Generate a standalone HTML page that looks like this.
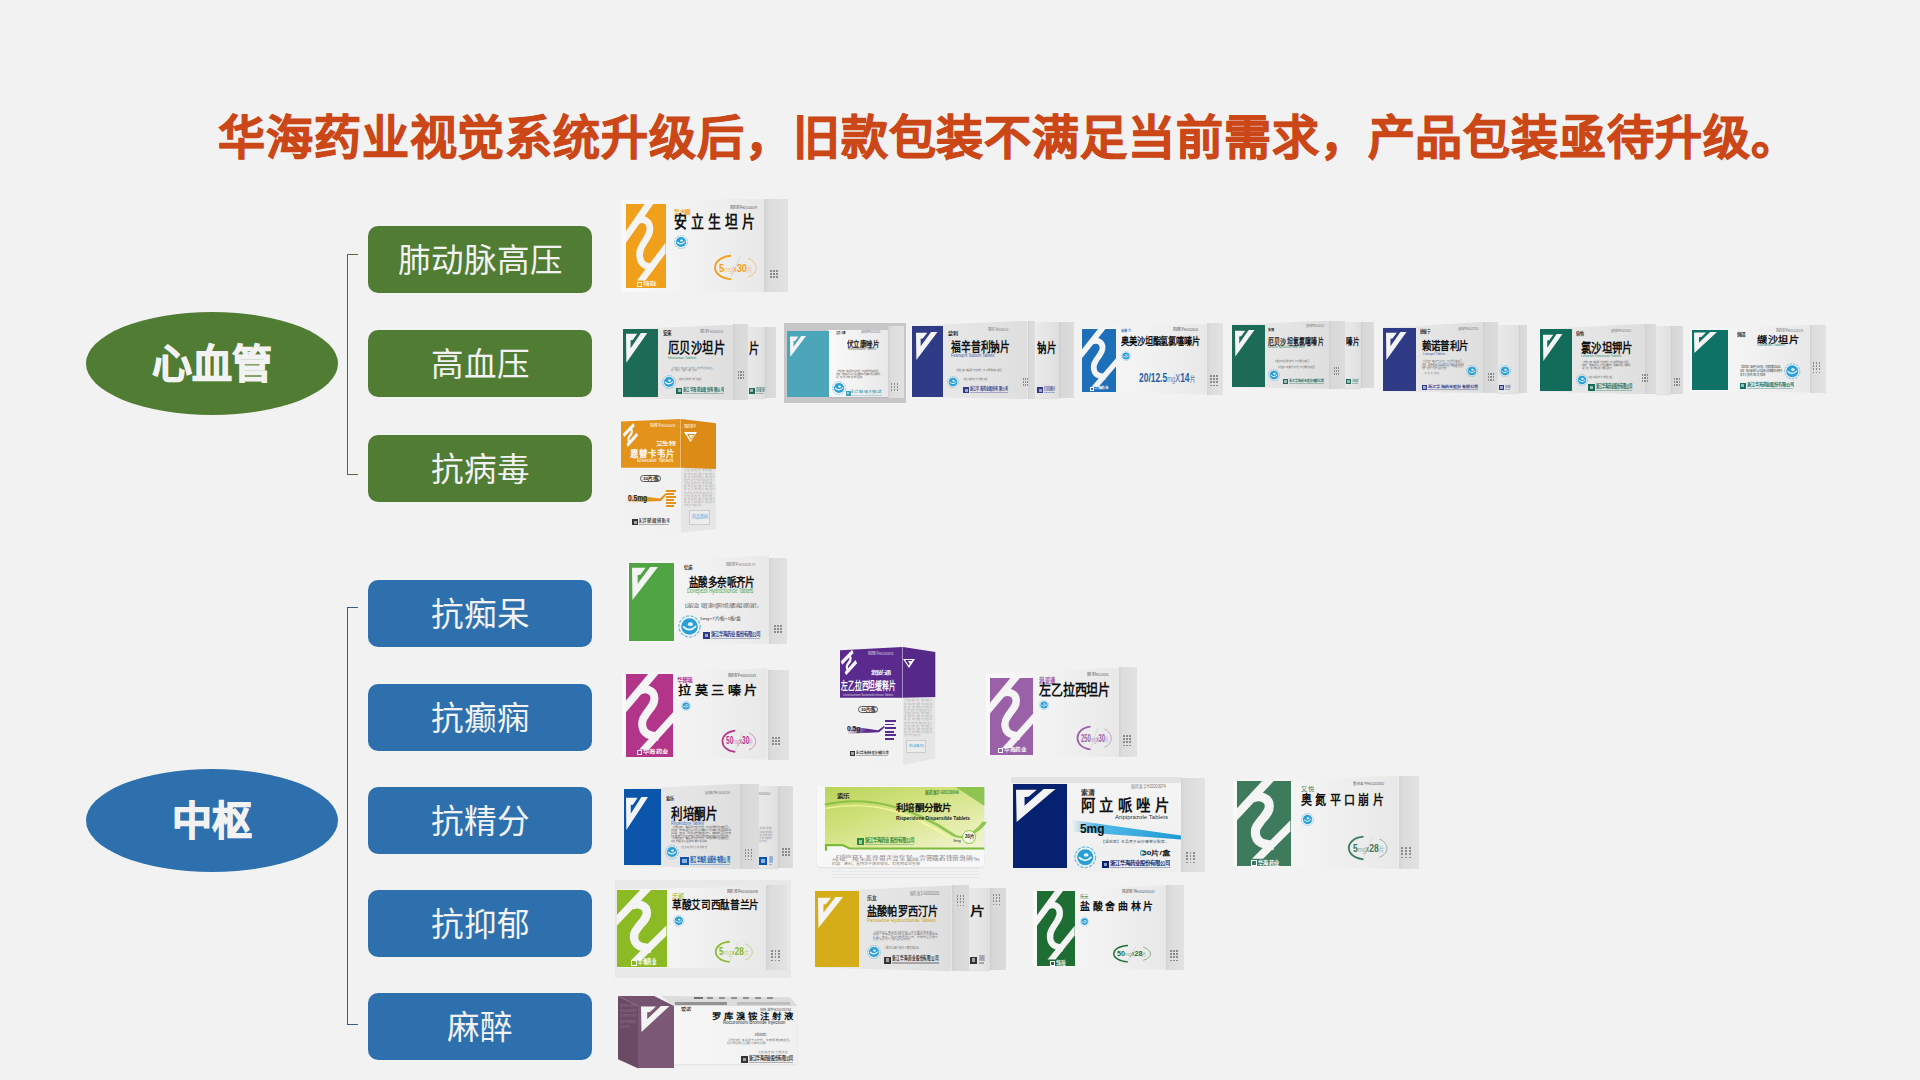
<!DOCTYPE html>
<html lang="zh-CN"><head><meta charset="utf-8">
<style>
html,body{margin:0;padding:0}
body{width:1920px;height:1080px;background:#f2f2f2;position:relative;overflow:hidden;font-family:"Liberation Sans",sans-serif}
.a{position:absolute}
.t{white-space:nowrap;line-height:1;transform-origin:0 0}
.title{left:218px;top:99px;font-size:47px;font-weight:700;color:#cc4718;white-space:nowrap;letter-spacing:0.9px;-webkit-text-stroke:0.9px #cc4718}
.ell{position:absolute;border-radius:50%;color:#f2f2f2;font-weight:bold;font-size:40px;text-align:center;-webkit-text-stroke:1.1px #f2f2f2}
.rect{position:absolute;left:368px;width:224px;height:67px;border-radius:10px;color:#f2f2f2;font-size:32.6px;text-align:center;line-height:70px}
.g{background:#517c33}
.b{background:#2d70ad}
.br{position:absolute;left:346.5px;width:10.5px;border:1.8px solid;border-right:none}
</style></head><body>
<div class="a title">华海药业视觉系统升级后，旧款包装不满足当前需求，产品包装亟待升级。</div>

<div class="ell g" style="left:86px;top:312px;width:252px;height:103px;line-height:105px">心血管</div>
<div class="br" style="top:253.5px;height:219px;border-color:#4f6b3c"></div>
<div class="rect g" style="top:226px">肺动脉高压</div>
<div class="rect g" style="top:330px">高血压</div>
<div class="rect g" style="top:435px">抗病毒</div>

<div class="ell b" style="left:86px;top:769px;width:252px;height:103px;line-height:105px">中枢</div>
<div class="br" style="top:607px;height:415.5px;border-color:#3a5a80"></div>
<div class="rect b" style="top:580px">抗痴呆</div>
<div class="rect b" style="top:684px">抗癫痫</div>
<div class="rect b" style="top:787px">抗精分</div>
<div class="rect b" style="top:890px">抗抑郁</div>
<div class="rect b" style="top:992.5px">麻醉</div>

<div class="a" style="left:764.0px;top:199.0px;width:24.0px;height:93.0px;background:linear-gradient(90deg,#d3d3d3 0%,#dcdcdc 20%,#e2e2e2 100%);"></div>
<div class="a" style="left:621.0px;top:199.0px;width:143.0px;height:93.0px;background:linear-gradient(90deg,#f9f9f9 0%,#f1f1f1 55%,#e8e8e8 100%);clip-path:polygon(0 1px,100% 0,100% 100%,0 calc(100% - 0px));"></div>
<div class="a" style="left:626.0px;top:204.0px;width:39.5px;height:84.0px;background:#f1a01c;"></div>
<svg class="a" style="left:626.0px;top:204.0px;overflow:hidden" width="39.5" height="84.0" viewBox="0 0 100 100" preserveAspectRatio="none"><polygon points="47,0 69,0 0,46 0,32" fill="#f4f4f4"/><polygon points="100,46 100,59 49,91 28,91" fill="#f4f4f4"/><path d="M29.6,20.2 C41.6,16.4 60.5,19.1 60.5,29.5 C60.5,35.5 55.3,38.8 45,46.4 L39.9,50.8 C31.3,57.4 31.3,71 52.6,73.8 L70,76" fill="none" stroke="#f4f4f4" stroke-width="6.72" vector-effect="non-scaling-stroke" stroke-linecap="butt"/></svg>
<div class="a" style="left:637.0px;top:282.0px;width:4.5px;height:4.5px;border:0.8px solid #fff;box-sizing:border-box;"></div>
<div class="a t" id="f1" style="left:642.6px;top:282.0px;font-size:4.89px;color:#fff;font-weight:bold;font-family:'Liberation Sans',sans-serif;transform:scaleX(0.6896);">华海药业</div>
<div class="a t" id="f2" style="left:674.0px;top:208.9px;font-size:5.98px;color:#f1a01c;font-weight:bold;font-family:'Liberation Sans',sans-serif;transform:scaleX(0.9432);">华吉顺</div>
<div class="a t" id="f3" style="left:730.0px;top:205.5px;font-size:4.11px;color:#555;font-weight:normal;font-family:'Liberation Sans',sans-serif;transform:scaleX(0.7311);">国药准字H20100479</div>
<div class="a t" id="f4" style="left:674.0px;top:215.3px;font-size:16.52px;color:#111;font-weight:bold;font-family:'Liberation Sans',sans-serif;transform:scaleX(0.7829);">安 立 生 坦 片</div>
<svg class="a" style="left:674.0px;top:235.0px;" width="14.0" height="14.0" viewBox="0 0 100 100" preserveAspectRatio="xMidYMid meet" overflow="visible"><circle cx="50" cy="50" r="46" fill="none" stroke="#2a9fd6" stroke-width="5" stroke-dasharray="14 6" opacity="0.7"/><circle cx="50" cy="50" r="36" fill="#2a9fd6"/><path d="M22,50 Q50,78 78,48" stroke="#e8f6fc" stroke-width="8" fill="none"/><ellipse cx="54" cy="40" rx="11" ry="8" fill="#e8f6fc"/></svg>
<svg class="a" style="left:712.0px;top:255.0px;" width="45.0" height="25.0" viewBox="0 0 100 100" preserveAspectRatio="none" overflow="visible"><path d="M42,3 C-5,10 -5,90 42,97" fill="none" stroke="#f1a01c" stroke-width="1.88" vector-effect="non-scaling-stroke"/><path d="M80,13 C104,30 104,74 80,88" fill="none" stroke="#f1a01c" stroke-width="0.9" opacity="0.55" vector-effect="non-scaling-stroke"/><path d="M62,6 L42,94" fill="none" stroke="#cfcfcf" stroke-width="0.6" vector-effect="non-scaling-stroke"/></svg>
<div class="a t" id="f5" style="left:719.2px;top:261.9px;font-size:11.64px;color:#f1a01c;font-weight:normal;font-family:'Liberation Sans',sans-serif;transform:scaleX(0.7979);"><b>5</b><span style="font-size:0.68em;opacity:0.55">mg</span><span style="font-size:0.8em">x</span><b>30</b><span style="font-size:0.6em;opacity:0.55">片</span></div>
<div class="a" style="left:770.0px;top:270.0px;width:1.6px;height:8.0px;background:repeating-linear-gradient(180deg,#555 0 1.6px,transparent 1.6px 3.2px);opacity:0.6;"></div>
<div class="a" style="left:773.2px;top:270.0px;width:1.6px;height:8.0px;background:repeating-linear-gradient(180deg,#555 0 1.6px,transparent 1.6px 3.2px);opacity:0.6;"></div>
<div class="a" style="left:776.4px;top:270.0px;width:1.6px;height:8.0px;background:repeating-linear-gradient(180deg,#555 0 1.6px,transparent 1.6px 3.2px);opacity:0.6;"></div>
<div class="a" style="left:764.7px;top:326.5px;width:11.5px;height:71.8px;background:linear-gradient(90deg,#d0d0d0 0%,#d8d8d8 20%,#dcdcdc 100%);"></div>
<div class="a" style="left:748.0px;top:326.5px;width:16.7px;height:71.8px;background:linear-gradient(90deg,#e9e9e9 0%,#e4e4e4 60%,#dedede 100%);box-shadow:0 1px 1px rgba(0,0,0,0.07);"></div>
<div class="a t" id="f6" style="left:749.0px;top:340.9px;font-size:14.13px;color:#111;font-weight:bold;font-family:'Liberation Sans',sans-serif;transform:scaleX(0.7236);">片</div>
<div class="a" style="left:749.0px;top:388.0px;width:5.5px;height:5.5px;background:#1b6b57;"></div>
<div class="a" style="left:750.4px;top:389.4px;width:2.8px;height:2.8px;background:rgba(255,255,255,0.55);"></div>
<div class="a t" id="f7" style="left:755.6px;top:388.0px;font-size:4.30px;color:#1b6b57;font-weight:bold;font-family:'Liberation Sans',sans-serif;transform:scaleX(0.1822);">浙江华海药业股份有限公司</div>
<div class="a" style="left:755.6px;top:392.5px;width:8.4px;height:1.0px;background:#1b6b57;opacity:0.35;"></div>
<div class="a" style="left:733.2px;top:324.3px;width:14.8px;height:75.7px;background:linear-gradient(90deg,#d0d0d0 0%,#d8d8d8 20%,#dcdcdc 100%);"></div>
<div class="a" style="left:623.0px;top:324.7px;width:110.2px;height:75.3px;background:linear-gradient(90deg,#e9e9e9 0%,#e4e4e4 60%,#dedede 100%);clip-path:polygon(0 4.5px,100% 0,100% 100%,0 calc(100% - 1.8px));"></div>
<div class="a" style="left:623.0px;top:328.7px;width:35.4px;height:68.3px;background:#1b6b56;"></div>
<svg class="a" style="left:625.6px;top:333.0px;" width="21.3" height="29.8" viewBox="0 0 21.30 29.80" overflow="visible"><polygon points="0.00,0.72 11.18,0.72 6.75,6.97 4.62,7.21 4.62,15.14 14.91,0.00 21.30,0.00 0.36,29.80" fill="#f4f4f4"/></svg>
<div class="a t" id="f8" style="left:663.0px;top:330.9px;font-size:5.43px;color:#222;font-weight:bold;font-family:'Liberation Sans',sans-serif;transform:scaleX(0.8435);">安来</div>
<div class="a t" id="f9" style="left:700.0px;top:329.5px;font-size:4.11px;color:#777;font-weight:normal;font-family:'Liberation Sans',sans-serif;transform:scaleX(0.6238);">国药准字H20000513</div>
<div class="a t" id="f10" style="left:667.7px;top:340.6px;font-size:14.89px;color:#111;font-weight:bold;font-family:'Liberation Sans',sans-serif;transform:scaleX(0.7599);">厄贝沙坦片</div>
<div class="a t" id="f11" style="left:668.0px;top:356.1px;font-size:4.11px;color:#2f8c6f;font-weight:normal;font-family:'Liberation Sans',sans-serif;transform:scaleX(0.8666);">Irbesartan Tablets</div>
<div class="a t" id="f12" style="left:671.0px;top:367.9px;font-size:1.74px;color:#6e6e6e;font-weight:normal;font-family:'Liberation Sans',sans-serif;transform:scaleX(1.0032);">【适应症】本品用于治疗轻、中度原发性高血压。</div>
<div class="a t" id="f13" style="left:671.0px;top:369.9px;font-size:1.74px;color:#6e6e6e;font-weight:normal;font-family:'Liberation Sans',sans-serif;transform:scaleX(0.6032);">规格：按本品计每片含主要成分及辅料详见说明书</div>
<svg class="a" style="left:662.0px;top:374.5px;" width="14.0" height="14.0" viewBox="0 0 100 100" preserveAspectRatio="xMidYMid meet" overflow="visible"><circle cx="50" cy="50" r="46" fill="none" stroke="#2a9fd6" stroke-width="5" stroke-dasharray="14 6" opacity="0.7"/><circle cx="50" cy="50" r="36" fill="#2a9fd6"/><path d="M22,50 Q50,78 78,48" stroke="#e8f6fc" stroke-width="8" fill="none"/><ellipse cx="54" cy="40" rx="11" ry="8" fill="#e8f6fc"/></svg>
<div class="a t" id="f14" style="left:678.0px;top:378.2px;font-size:2.17px;color:#6e6e6e;font-weight:normal;font-family:'Liberation Sans',sans-serif;transform:scaleX(0.5494);">【适应症】本品用于治疗轻、中度原发性高血压。</div>
<div class="a" style="left:676.0px;top:387.6px;width:6.2px;height:6.2px;background:#1b6b57;"></div>
<div class="a" style="left:677.5px;top:389.2px;width:3.1px;height:3.1px;background:rgba(255,255,255,0.55);"></div>
<div class="a t" id="f15" style="left:683.4px;top:387.6px;font-size:4.85px;color:#1b6b57;font-weight:bold;font-family:'Liberation Sans',sans-serif;transform:scaleX(0.6825);">浙江华海药业股份有限公司</div>
<div class="a" style="left:683.4px;top:392.7px;width:40.6px;height:1.1px;background:#1b6b57;opacity:0.35;"></div>
<div class="a" style="left:738.0px;top:371.0px;width:1.2px;height:10.0px;background:repeating-linear-gradient(180deg,#555 0 1.6px,transparent 1.6px 3.2px);opacity:0.6;"></div>
<div class="a" style="left:740.4px;top:371.0px;width:1.2px;height:10.0px;background:repeating-linear-gradient(180deg,#555 0 1.6px,transparent 1.6px 3.2px);opacity:0.6;"></div>
<div class="a" style="left:742.8px;top:371.0px;width:1.2px;height:10.0px;background:repeating-linear-gradient(180deg,#555 0 1.6px,transparent 1.6px 3.2px);opacity:0.6;"></div>
<div class="a" style="left:784.2px;top:323.0px;width:122.3px;height:79.6px;background:#c8c6c8;"></div>
<div class="a" style="left:888.0px;top:326.0px;width:15.7px;height:71.6px;background:linear-gradient(90deg,#d3d3d3 0%,#dcdcdc 20%,#e2e2e2 100%);"></div>
<div class="a" style="left:828.0px;top:329.5px;width:60.0px;height:67.7px;background:linear-gradient(90deg,#f9f9f9 0%,#f1f1f1 55%,#e8e8e8 100%);box-shadow:0 1px 1px rgba(0,0,0,0.07);"></div>
<div class="a" style="left:786.8px;top:330.5px;width:41.8px;height:66.3px;background:#4ba6b9;"></div>
<svg class="a" style="left:789.5px;top:336.0px;" width="16.0" height="21.0" viewBox="0 0 16.00 21.00" overflow="visible"><polygon points="0.00,0.50 8.40,0.50 5.07,4.91 3.47,5.08 3.47,10.67 11.20,0.00 16.00,0.00 0.27,21.00" fill="#f4f4f4"/></svg>
<div class="a t" id="f16" style="left:836.0px;top:332.0px;font-size:3.26px;color:#333;font-weight:bold;font-family:'Liberation Sans',sans-serif;transform:scaleX(0.7717);">艾克立康</div>
<div class="a t" id="f17" style="left:861.0px;top:330.6px;font-size:3.42px;color:#777;font-weight:normal;font-family:'Liberation Sans',sans-serif;transform:scaleX(0.6483);">国药准字H20103130</div>
<div class="a t" id="f18" style="left:846.5px;top:340.9px;font-size:8.04px;color:#222;font-weight:bold;font-family:'Liberation Sans',sans-serif;transform:scaleX(0.8111);">伏立康唑片</div>
<div class="a t" id="f19" style="left:848.0px;top:349.2px;font-size:2.74px;color:#666;font-weight:normal;font-family:'Liberation Sans',sans-serif;transform:scaleX(1.1252);">Voriconazole Tablets</div>
<div class="a t" id="f20" style="left:836.0px;top:370.2px;font-size:2.32px;color:#6e6e6e;font-weight:normal;font-family:'Liberation Sans',sans-serif;transform:scaleX(1.0042);">【适应症】本品用于治疗轻、中度原发性高血压。</div>
<div class="a t" id="f21" style="left:836.0px;top:372.9px;font-size:2.32px;color:#6e6e6e;font-weight:normal;font-family:'Liberation Sans',sans-serif;transform:scaleX(1.0042);">规格：按本品计每片含主要成分及辅料详见说明书</div>
<div class="a t" id="f22" style="left:836.0px;top:375.6px;font-size:2.32px;color:#6e6e6e;font-weight:normal;font-family:'Liberation Sans',sans-serif;transform:scaleX(0.6042);">贮藏：密封，置阴凉干燥处保存。有效期至见包装</div>
<svg class="a" style="left:832.0px;top:381.0px;" width="14.0" height="14.0" viewBox="0 0 100 100" preserveAspectRatio="xMidYMid meet" overflow="visible"><circle cx="50" cy="50" r="46" fill="none" stroke="#2a9fd6" stroke-width="5" stroke-dasharray="14 6" opacity="0.7"/><circle cx="50" cy="50" r="36" fill="#2a9fd6"/><path d="M22,50 Q50,78 78,48" stroke="#e8f6fc" stroke-width="8" fill="none"/><ellipse cx="54" cy="40" rx="11" ry="8" fill="#e8f6fc"/></svg>
<div class="a" style="left:846.0px;top:391.0px;width:4.5px;height:4.5px;background:#3e9fb5;"></div>
<div class="a" style="left:847.1px;top:392.1px;width:2.2px;height:2.2px;background:rgba(255,255,255,0.55);"></div>
<div class="a t" id="f23" style="left:851.4px;top:391.0px;font-size:3.52px;color:#3e9fb5;font-weight:bold;font-family:'Liberation Sans',sans-serif;transform:scaleX(0.6434);">浙江华海药业股份有限公司</div>
<div class="a" style="left:851.4px;top:394.7px;width:30.6px;height:0.8px;background:#3e9fb5;opacity:0.35;"></div>
<div class="a" style="left:891.0px;top:383.0px;width:1.4px;height:8.0px;background:repeating-linear-gradient(180deg,#555 0 1.6px,transparent 1.6px 3.2px);opacity:0.6;"></div>
<div class="a" style="left:893.8px;top:383.0px;width:1.4px;height:8.0px;background:repeating-linear-gradient(180deg,#555 0 1.6px,transparent 1.6px 3.2px);opacity:0.6;"></div>
<div class="a" style="left:896.6px;top:383.0px;width:1.4px;height:8.0px;background:repeating-linear-gradient(180deg,#555 0 1.6px,transparent 1.6px 3.2px);opacity:0.6;"></div>
<div class="a" style="left:1059.4px;top:322.0px;width:14.2px;height:76.4px;background:linear-gradient(90deg,#d0d0d0 0%,#d8d8d8 20%,#dcdcdc 100%);"></div>
<div class="a" style="left:1035.5px;top:322.0px;width:23.9px;height:76.4px;background:linear-gradient(90deg,#e9e9e9 0%,#e4e4e4 60%,#dedede 100%);box-shadow:0 1px 1px rgba(0,0,0,0.07);"></div>
<div class="a t" id="f24" style="left:1037.0px;top:340.9px;font-size:13.04px;color:#111;font-weight:bold;font-family:'Liberation Sans',sans-serif;transform:scaleX(0.7324);">钠片</div>
<div class="a" style="left:1037.0px;top:387.0px;width:6.0px;height:6.0px;background:#2e3a87;"></div>
<div class="a" style="left:1038.5px;top:388.5px;width:3.0px;height:3.0px;background:rgba(255,255,255,0.55);"></div>
<div class="a t" id="f25" style="left:1044.2px;top:387.0px;font-size:4.70px;color:#2e3a87;font-weight:bold;font-family:'Liberation Sans',sans-serif;transform:scaleX(0.1863);">浙江华海药业股份有限公司</div>
<div class="a" style="left:1044.2px;top:391.9px;width:10.8px;height:1.1px;background:#2e3a87;opacity:0.35;"></div>
<div class="a" style="left:1027.6px;top:320.6px;width:7.9px;height:78.6px;background:linear-gradient(90deg,#d0d0d0 0%,#d8d8d8 20%,#dcdcdc 100%);"></div>
<div class="a" style="left:912.4px;top:320.6px;width:115.2px;height:78.6px;background:linear-gradient(90deg,#e9e9e9 0%,#e4e4e4 60%,#dedede 100%);clip-path:polygon(0 5.4px,100% 0,100% 100%,0 calc(100% - 2.4px));"></div>
<div class="a" style="left:912.4px;top:326.0px;width:31.0px;height:70.8px;background:#2f3b87;"></div>
<svg class="a" style="left:915.5px;top:331.5px;" width="21.5" height="28.0" viewBox="0 0 21.50 28.00" overflow="visible"><polygon points="0.00,0.67 11.29,0.67 6.82,6.55 4.67,6.78 4.67,14.22 15.05,0.00 21.50,0.00 0.37,28.00" fill="#f4f4f4"/></svg>
<div class="a t" id="f26" style="left:948.0px;top:332.0px;font-size:4.35px;color:#222;font-weight:bold;font-family:'Liberation Sans',sans-serif;transform:scaleX(1.1685);">蒙利</div>
<div class="a t" id="f27" style="left:988.0px;top:327.5px;font-size:4.11px;color:#777;font-weight:normal;font-family:'Liberation Sans',sans-serif;transform:scaleX(0.5433);">国药准字H20080140</div>
<div class="a t" id="f28" style="left:950.5px;top:341.1px;font-size:12.93px;color:#111;font-weight:bold;font-family:'Liberation Sans',sans-serif;transform:scaleX(0.7569);">福辛普利钠片</div>
<div class="a t" id="f29" style="left:951.0px;top:353.5px;font-size:4.52px;color:#3d5aa8;font-weight:normal;font-family:'Liberation Sans',sans-serif;transform:scaleX(0.8382);">Fosinopril Sodium Tablets</div>
<div class="a t" id="f30" style="left:955.0px;top:369.2px;font-size:2.17px;color:#6e6e6e;font-weight:normal;font-family:'Liberation Sans',sans-serif;transform:scaleX(1.0949);">【适应症】本品用于治疗轻、中度原发性高血压。</div>
<svg class="a" style="left:947.0px;top:376.0px;" width="12.0" height="12.0" viewBox="0 0 100 100" preserveAspectRatio="xMidYMid meet" overflow="visible"><circle cx="50" cy="50" r="46" fill="none" stroke="#2a9fd6" stroke-width="5" stroke-dasharray="14 6" opacity="0.7"/><circle cx="50" cy="50" r="36" fill="#2a9fd6"/><path d="M22,50 Q50,78 78,48" stroke="#e8f6fc" stroke-width="8" fill="none"/><ellipse cx="54" cy="40" rx="11" ry="8" fill="#e8f6fc"/></svg>
<div class="a t" id="f31" style="left:963.0px;top:377.7px;font-size:2.17px;color:#6e6e6e;font-weight:normal;font-family:'Liberation Sans',sans-serif;transform:scaleX(0.5721);">【适应症】本品用于治疗轻、中度原发性高血压。</div>
<div class="a" style="left:963.0px;top:387.0px;width:6.0px;height:6.0px;background:#2e3a87;"></div>
<div class="a" style="left:964.5px;top:388.5px;width:3.0px;height:3.0px;background:rgba(255,255,255,0.55);"></div>
<div class="a t" id="f32" style="left:970.2px;top:387.0px;font-size:4.70px;color:#2e3a87;font-weight:bold;font-family:'Liberation Sans',sans-serif;transform:scaleX(0.6363);">浙江华海药业股份有限公司</div>
<div class="a" style="left:970.2px;top:391.9px;width:37.8px;height:1.1px;background:#2e3a87;opacity:0.35;"></div>
<div class="a" style="left:1023.0px;top:378.0px;width:1.0px;height:10.0px;background:repeating-linear-gradient(180deg,#555 0 1.6px,transparent 1.6px 3.2px);opacity:0.6;"></div>
<div class="a" style="left:1025.0px;top:378.0px;width:1.0px;height:10.0px;background:repeating-linear-gradient(180deg,#555 0 1.6px,transparent 1.6px 3.2px);opacity:0.6;"></div>
<div class="a" style="left:1027.0px;top:378.0px;width:1.0px;height:10.0px;background:repeating-linear-gradient(180deg,#555 0 1.6px,transparent 1.6px 3.2px);opacity:0.6;"></div>
<div class="a" style="left:1206.8px;top:323.0px;width:16.7px;height:72.0px;background:linear-gradient(90deg,#d3d3d3 0%,#dcdcdc 20%,#e2e2e2 100%);"></div>
<div class="a" style="left:1081.4px;top:323.5px;width:125.4px;height:71.1px;background:linear-gradient(90deg,#f9f9f9 0%,#f1f1f1 55%,#e8e8e8 100%);clip-path:polygon(0 5px,100% 0,100% 100%,0 calc(100% - 2.4px));"></div>
<div class="a" style="left:1082.0px;top:328.5px;width:34.0px;height:63.5px;background:#1e6fba;"></div>
<svg class="a" style="left:1082.0px;top:328.5px;overflow:hidden" width="34.0" height="63.5" viewBox="0 0 100 100" preserveAspectRatio="none"><polygon points="47,0 69,0 0,46 0,32" fill="#f4f4f4"/><polygon points="100,46 100,59 49,91 28,91" fill="#f4f4f4"/><path d="M29.6,20.2 C41.6,16.4 60.5,19.1 60.5,29.5 C60.5,35.5 55.3,38.8 45,46.4 L39.9,50.8 C31.3,57.4 31.3,71 52.6,73.8 L70,76" fill="none" stroke="#f4f4f4" stroke-width="5.78" vector-effect="non-scaling-stroke" stroke-linecap="butt"/></svg>
<div class="a" style="left:1090.0px;top:387.0px;width:3.5px;height:3.5px;border:0.8px solid #fff;box-sizing:border-box;"></div>
<div class="a t" id="f33" style="left:1094.4px;top:387.0px;font-size:3.80px;color:#fff;font-weight:bold;font-family:'Liberation Sans',sans-serif;transform:scaleX(0.9315);">华海药业</div>
<div class="a t" id="f34" style="left:1121.0px;top:330.0px;font-size:3.80px;color:#1e6fba;font-weight:bold;font-family:'Liberation Sans',sans-serif;transform:scaleX(0.8587);">安美兰</div>
<div class="a t" id="f35" style="left:1173.0px;top:327.5px;font-size:4.11px;color:#555;font-weight:normal;font-family:'Liberation Sans',sans-serif;transform:scaleX(0.6775);">国药准字H20203045</div>
<div class="a t" id="f36" style="left:1121.0px;top:337.1px;font-size:10.43px;color:#111;font-weight:bold;font-family:'Liberation Sans',sans-serif;transform:scaleX(0.7883);">奥美沙坦酯氢氯噻嗪片</div>
<svg class="a" style="left:1121.0px;top:350.8px;" width="10.0" height="10.0" viewBox="0 0 100 100" preserveAspectRatio="xMidYMid meet" overflow="visible"><circle cx="50" cy="50" r="46" fill="none" stroke="#2a9fd6" stroke-width="5" stroke-dasharray="14 6" opacity="0.7"/><circle cx="50" cy="50" r="36" fill="#2a9fd6"/><path d="M22,50 Q50,78 78,48" stroke="#e8f6fc" stroke-width="8" fill="none"/><ellipse cx="54" cy="40" rx="11" ry="8" fill="#e8f6fc"/></svg>
<div class="a t" id="f37" style="left:1138.5px;top:373.2px;font-size:11.92px;color:#1e5fa8;font-weight:normal;font-family:'Liberation Sans',sans-serif;transform:scaleX(0.7086);"><b>20/12.5</b><span style="font-size:0.7em;opacity:0.7">mg</span><span style="font-size:0.85em">X</span><b>14</b><span style="font-size:0.65em">片</span></div>
<div class="a" style="left:1210.0px;top:375.0px;width:1.6px;height:13.0px;background:repeating-linear-gradient(180deg,#555 0 1.6px,transparent 1.6px 3.2px);opacity:0.6;"></div>
<div class="a" style="left:1213.2px;top:375.0px;width:1.6px;height:13.0px;background:repeating-linear-gradient(180deg,#555 0 1.6px,transparent 1.6px 3.2px);opacity:0.6;"></div>
<div class="a" style="left:1216.4px;top:375.0px;width:1.6px;height:13.0px;background:repeating-linear-gradient(180deg,#555 0 1.6px,transparent 1.6px 3.2px);opacity:0.6;"></div>
<div class="a" style="left:1361.0px;top:322.0px;width:12.6px;height:66.0px;background:linear-gradient(90deg,#d0d0d0 0%,#d8d8d8 20%,#dcdcdc 100%);"></div>
<div class="a" style="left:1345.0px;top:322.0px;width:16.0px;height:66.0px;background:linear-gradient(90deg,#e9e9e9 0%,#e4e4e4 60%,#dedede 100%);box-shadow:0 1px 1px rgba(0,0,0,0.07);"></div>
<div class="a t" id="f38" style="left:1346.0px;top:337.9px;font-size:8.70px;color:#111;font-weight:bold;font-family:'Liberation Sans',sans-serif;transform:scaleX(0.7609);">嗪片</div>
<div class="a" style="left:1346.0px;top:379.0px;width:5.0px;height:5.0px;background:#1b6b57;"></div>
<div class="a" style="left:1347.2px;top:380.2px;width:2.5px;height:2.5px;background:rgba(255,255,255,0.55);"></div>
<div class="a t" id="f39" style="left:1352.0px;top:379.0px;font-size:3.91px;color:#1b6b57;font-weight:bold;font-family:'Liberation Sans',sans-serif;transform:scaleX(0.1315);">浙江华海药业股份有限公司</div>
<div class="a" style="left:1352.0px;top:383.1px;width:6.0px;height:0.9px;background:#1b6b57;opacity:0.35;"></div>
<div class="a" style="left:1329.0px;top:320.6px;width:16.0px;height:68.4px;background:linear-gradient(90deg,#d0d0d0 0%,#d8d8d8 20%,#dcdcdc 100%);"></div>
<div class="a" style="left:1232.0px;top:320.6px;width:97.0px;height:68.4px;background:linear-gradient(90deg,#e9e9e9 0%,#e4e4e4 60%,#dedede 100%);clip-path:polygon(0 4px,100% 0,100% 100%,0 calc(100% - 1.7px));"></div>
<div class="a" style="left:1232.0px;top:324.5px;width:33.0px;height:62.8px;background:#1b6b56;"></div>
<svg class="a" style="left:1234.5px;top:329.5px;" width="19.5" height="26.5" viewBox="0 0 19.50 26.50" overflow="visible"><polygon points="0.00,0.64 10.24,0.64 6.18,6.20 4.23,6.41 4.23,13.46 13.65,0.00 19.50,0.00 0.33,26.50" fill="#f4f4f4"/></svg>
<div class="a t" id="f40" style="left:1268.0px;top:329.0px;font-size:3.26px;color:#222;font-weight:bold;font-family:'Liberation Sans',sans-serif;transform:scaleX(1.0435);">安来</div>
<div class="a t" id="f41" style="left:1306.0px;top:324.6px;font-size:3.42px;color:#777;font-weight:normal;font-family:'Liberation Sans',sans-serif;transform:scaleX(0.6145);">国药准字H20000513</div>
<div class="a t" id="f42" style="left:1268.0px;top:337.9px;font-size:8.70px;color:#222;font-weight:bold;font-family:'Liberation Sans',sans-serif;transform:scaleX(0.6876);">厄贝沙坦氢氯噻嗪片</div>
<div class="a t" id="f43" style="left:1268.0px;top:346.1px;font-size:3.42px;color:#2f8c6f;font-weight:normal;font-family:'Liberation Sans',sans-serif;transform:scaleX(0.6408);">Irbesartan Hydrochlorothiazide Tablets</div>
<div class="a t" id="f44" style="left:1274.0px;top:360.2px;font-size:2.17px;color:#6e6e6e;font-weight:normal;font-family:'Liberation Sans',sans-serif;transform:scaleX(0.8221);">【适应症】本品用于治疗轻、中度原发性高血压。</div>
<div class="a t" id="f45" style="left:1277.0px;top:366.2px;font-size:2.17px;color:#6e6e6e;font-weight:normal;font-family:'Liberation Sans',sans-serif;transform:scaleX(0.8903);">【适应症】本品用于治疗轻、中度原发性高血压。</div>
<svg class="a" style="left:1268.0px;top:369.0px;" width="12.0" height="12.0" viewBox="0 0 100 100" preserveAspectRatio="xMidYMid meet" overflow="visible"><circle cx="50" cy="50" r="46" fill="none" stroke="#2a9fd6" stroke-width="5" stroke-dasharray="14 6" opacity="0.7"/><circle cx="50" cy="50" r="36" fill="#2a9fd6"/><path d="M22,50 Q50,78 78,48" stroke="#e8f6fc" stroke-width="8" fill="none"/><ellipse cx="54" cy="40" rx="11" ry="8" fill="#e8f6fc"/></svg>
<div class="a" style="left:1283.0px;top:379.0px;width:5.0px;height:5.0px;background:#1b6b57;"></div>
<div class="a" style="left:1284.2px;top:380.2px;width:2.5px;height:2.5px;background:rgba(255,255,255,0.55);"></div>
<div class="a t" id="f46" style="left:1289.0px;top:379.0px;font-size:3.91px;color:#1b6b57;font-weight:bold;font-family:'Liberation Sans',sans-serif;transform:scaleX(0.7357);">浙江华海药业股份有限公司</div>
<div class="a" style="left:1289.0px;top:383.1px;width:35.0px;height:0.9px;background:#1b6b57;opacity:0.35;"></div>
<div class="a" style="left:1334.0px;top:367.0px;width:1.0px;height:10.0px;background:repeating-linear-gradient(180deg,#555 0 1.6px,transparent 1.6px 3.2px);opacity:0.6;"></div>
<div class="a" style="left:1336.0px;top:367.0px;width:1.0px;height:10.0px;background:repeating-linear-gradient(180deg,#555 0 1.6px,transparent 1.6px 3.2px);opacity:0.6;"></div>
<div class="a" style="left:1338.0px;top:367.0px;width:1.0px;height:10.0px;background:repeating-linear-gradient(180deg,#555 0 1.6px,transparent 1.6px 3.2px);opacity:0.6;"></div>
<div class="a" style="left:1518.8px;top:324.5px;width:8.7px;height:68.5px;background:linear-gradient(90deg,#d0d0d0 0%,#d8d8d8 20%,#dcdcdc 100%);"></div>
<div class="a" style="left:1498.0px;top:324.5px;width:20.8px;height:68.5px;background:linear-gradient(90deg,#e9e9e9 0%,#e4e4e4 60%,#dedede 100%);box-shadow:0 1px 1px rgba(0,0,0,0.07);"></div>
<svg class="a" style="left:1499.0px;top:365.0px;" width="12.0" height="12.0" viewBox="0 0 100 100" preserveAspectRatio="xMidYMid meet" overflow="visible"><circle cx="50" cy="50" r="46" fill="none" stroke="#2a9fd6" stroke-width="5" stroke-dasharray="14 6" opacity="0.7"/><circle cx="50" cy="50" r="36" fill="#2a9fd6"/><path d="M22,50 Q50,78 78,48" stroke="#e8f6fc" stroke-width="8" fill="none"/><ellipse cx="54" cy="40" rx="11" ry="8" fill="#e8f6fc"/></svg>
<div class="a" style="left:1499.0px;top:385.0px;width:5.0px;height:5.0px;background:#2e3a87;"></div>
<div class="a" style="left:1500.2px;top:386.2px;width:2.5px;height:2.5px;background:rgba(255,255,255,0.55);"></div>
<div class="a t" id="f47" style="left:1505.0px;top:385.0px;font-size:3.91px;color:#2e3a87;font-weight:bold;font-family:'Liberation Sans',sans-serif;transform:scaleX(0.1107);">浙江华海药业股份有限公司</div>
<div class="a" style="left:1505.0px;top:389.1px;width:5.0px;height:0.9px;background:#2e3a87;opacity:0.35;"></div>
<div class="a" style="left:1483.0px;top:322.0px;width:15.0px;height:71.0px;background:linear-gradient(90deg,#d0d0d0 0%,#d8d8d8 20%,#dcdcdc 100%);"></div>
<div class="a" style="left:1383.0px;top:322.0px;width:100.0px;height:71.0px;background:linear-gradient(90deg,#e9e9e9 0%,#e4e4e4 60%,#dedede 100%);clip-path:polygon(0 5.7px,100% 0,100% 100%,0 calc(100% - 1.7px));"></div>
<div class="a" style="left:1383.0px;top:327.7px;width:33.0px;height:63.6px;background:#2f3b87;"></div>
<svg class="a" style="left:1385.5px;top:332.0px;" width="20.5" height="28.0" viewBox="0 0 20.50 28.00" overflow="visible"><polygon points="0.00,0.67 10.76,0.67 6.50,6.55 4.45,6.78 4.45,14.22 14.35,0.00 20.50,0.00 0.35,28.00" fill="#f4f4f4"/></svg>
<div class="a t" id="f48" style="left:1420.0px;top:330.0px;font-size:4.35px;color:#333;font-weight:bold;font-family:'Liberation Sans',sans-serif;transform:scaleX(0.8623);">捷赖宁</div>
<div class="a t" id="f49" style="left:1458.0px;top:327.6px;font-size:3.42px;color:#777;font-weight:normal;font-family:'Liberation Sans',sans-serif;transform:scaleX(0.6820);">国药准字H20073250</div>
<div class="a t" id="f50" style="left:1422.0px;top:340.9px;font-size:11.41px;color:#111;font-weight:bold;font-family:'Liberation Sans',sans-serif;transform:scaleX(0.8348);">赖诺普利片</div>
<div class="a t" id="f51" style="left:1423.0px;top:351.5px;font-size:4.11px;color:#3d5aa8;font-weight:normal;font-family:'Liberation Sans',sans-serif;transform:scaleX(0.7339);">Lisinopril Tablets</div>
<div class="a t" id="f52" style="left:1422.0px;top:361.2px;font-size:1.96px;color:#6e6e6e;font-weight:normal;font-family:'Liberation Sans',sans-serif;transform:scaleX(0.9581);">【适应症】本品用于治疗轻、中度原发性高血压。</div>
<div class="a t" id="f53" style="left:1422.0px;top:363.5px;font-size:1.96px;color:#6e6e6e;font-weight:normal;font-family:'Liberation Sans',sans-serif;transform:scaleX(0.9581);">规格：按本品计每片含主要成分及辅料详见说明书</div>
<div class="a t" id="f54" style="left:1422.0px;top:365.7px;font-size:1.96px;color:#6e6e6e;font-weight:normal;font-family:'Liberation Sans',sans-serif;transform:scaleX(0.9581);">贮藏：密封，置阴凉干燥处保存。有效期至见包装</div>
<div class="a t" id="f55" style="left:1422.0px;top:368.0px;font-size:1.96px;color:#6e6e6e;font-weight:normal;font-family:'Liberation Sans',sans-serif;transform:scaleX(0.6037);">批准文号及生产批号详见包装盒侧面打印信息。</div>
<svg class="a" style="left:1466.0px;top:364.5px;" width="12.0" height="12.0" viewBox="0 0 100 100" preserveAspectRatio="xMidYMid meet" overflow="visible"><circle cx="50" cy="50" r="46" fill="none" stroke="#2a9fd6" stroke-width="5" stroke-dasharray="14 6" opacity="0.7"/><circle cx="50" cy="50" r="36" fill="#2a9fd6"/><path d="M22,50 Q50,78 78,48" stroke="#e8f6fc" stroke-width="8" fill="none"/><ellipse cx="54" cy="40" rx="11" ry="8" fill="#e8f6fc"/></svg>
<div class="a t" id="f56" style="left:1424.0px;top:373.2px;font-size:1.74px;color:#6e6e6e;font-weight:normal;font-family:'Liberation Sans',sans-serif;transform:scaleX(0.3668);">【适应症】本品用于治疗轻、中度原发性高血压。</div>
<div class="a" style="left:1422.0px;top:385.0px;width:5.0px;height:5.0px;background:#2e3a87;"></div>
<div class="a" style="left:1423.2px;top:386.2px;width:2.5px;height:2.5px;background:rgba(255,255,255,0.55);"></div>
<div class="a t" id="f57" style="left:1428.0px;top:385.0px;font-size:3.91px;color:#2e3a87;font-weight:bold;font-family:'Liberation Sans',sans-serif;transform:scaleX(1.0482);">浙江华海药业股份有限公司</div>
<div class="a" style="left:1428.0px;top:389.1px;width:50.0px;height:0.9px;background:#2e3a87;opacity:0.35;"></div>
<div class="a" style="left:1488.0px;top:373.0px;width:1.2px;height:10.0px;background:repeating-linear-gradient(180deg,#555 0 1.6px,transparent 1.6px 3.2px);opacity:0.6;"></div>
<div class="a" style="left:1490.4px;top:373.0px;width:1.2px;height:10.0px;background:repeating-linear-gradient(180deg,#555 0 1.6px,transparent 1.6px 3.2px);opacity:0.6;"></div>
<div class="a" style="left:1492.8px;top:373.0px;width:1.2px;height:10.0px;background:repeating-linear-gradient(180deg,#555 0 1.6px,transparent 1.6px 3.2px);opacity:0.6;"></div>
<div class="a" style="left:1670.5px;top:326.0px;width:12.7px;height:68.0px;background:linear-gradient(90deg,#d0d0d0 0%,#d8d8d8 20%,#dcdcdc 100%);"></div>
<div class="a" style="left:1656.0px;top:326.0px;width:14.5px;height:68.0px;background:linear-gradient(90deg,#e9e9e9 0%,#e4e4e4 60%,#dedede 100%);box-shadow:0 1px 1px rgba(0,0,0,0.07);"></div>
<div class="a" style="left:1674.0px;top:378.0px;width:1.2px;height:10.0px;background:repeating-linear-gradient(180deg,#555 0 1.6px,transparent 1.6px 3.2px);opacity:0.6;"></div>
<div class="a" style="left:1676.4px;top:378.0px;width:1.2px;height:10.0px;background:repeating-linear-gradient(180deg,#555 0 1.6px,transparent 1.6px 3.2px);opacity:0.6;"></div>
<div class="a" style="left:1678.8px;top:378.0px;width:1.2px;height:10.0px;background:repeating-linear-gradient(180deg,#555 0 1.6px,transparent 1.6px 3.2px);opacity:0.6;"></div>
<div class="a" style="left:1645.0px;top:323.7px;width:11.0px;height:70.7px;background:linear-gradient(90deg,#d0d0d0 0%,#d8d8d8 20%,#dcdcdc 100%);"></div>
<div class="a" style="left:1540.0px;top:323.7px;width:105.0px;height:70.7px;background:linear-gradient(90deg,#e9e9e9 0%,#e4e4e4 60%,#dedede 100%);clip-path:polygon(0 5.6px,100% 0,100% 100%,0 calc(100% - 3px));"></div>
<div class="a" style="left:1540.0px;top:329.3px;width:32.0px;height:62.0px;background:#136b5a;"></div>
<svg class="a" style="left:1542.5px;top:334.0px;" width="19.5" height="27.0" viewBox="0 0 19.50 27.00" overflow="visible"><polygon points="0.00,0.65 10.24,0.65 6.18,6.32 4.23,6.53 4.23,13.72 13.65,0.00 19.50,0.00 0.33,27.00" fill="#f4f4f4"/></svg>
<div class="a t" id="f58" style="left:1576.0px;top:332.0px;font-size:4.35px;color:#222;font-weight:bold;font-family:'Liberation Sans',sans-serif;transform:scaleX(0.9185);">倍怡</div>
<div class="a t" id="f59" style="left:1611.0px;top:329.6px;font-size:3.42px;color:#777;font-weight:normal;font-family:'Liberation Sans',sans-serif;transform:scaleX(0.6820);">国药准字H20070265</div>
<div class="a t" id="f60" style="left:1580.7px;top:340.9px;font-size:13.04px;color:#111;font-weight:bold;font-family:'Liberation Sans',sans-serif;transform:scaleX(0.7976);">氯沙坦钾片</div>
<div class="a t" id="f61" style="left:1581.0px;top:353.5px;font-size:4.11px;color:#2f8c6f;font-weight:normal;font-family:'Liberation Sans',sans-serif;transform:scaleX(0.7984);">Losartan Potassium Tablets</div>
<div class="a t" id="f62" style="left:1582.0px;top:361.2px;font-size:2.32px;color:#6e6e6e;font-weight:normal;font-family:'Liberation Sans',sans-serif;transform:scaleX(1.0951);">【适应症】本品用于治疗轻、中度原发性高血压。</div>
<div class="a t" id="f63" style="left:1582.0px;top:363.9px;font-size:2.32px;color:#6e6e6e;font-weight:normal;font-family:'Liberation Sans',sans-serif;transform:scaleX(1.0951);">规格：按本品计每片含主要成分及辅料详见说明书</div>
<div class="a t" id="f64" style="left:1582.0px;top:366.6px;font-size:2.32px;color:#6e6e6e;font-weight:normal;font-family:'Liberation Sans',sans-serif;transform:scaleX(0.6588);">贮藏：密封，置阴凉干燥处保存。有效期至见包装</div>
<svg class="a" style="left:1576.0px;top:373.5px;" width="12.0" height="12.0" viewBox="0 0 100 100" preserveAspectRatio="xMidYMid meet" overflow="visible"><circle cx="50" cy="50" r="46" fill="none" stroke="#2a9fd6" stroke-width="5" stroke-dasharray="14 6" opacity="0.7"/><circle cx="50" cy="50" r="36" fill="#2a9fd6"/><path d="M22,50 Q50,78 78,48" stroke="#e8f6fc" stroke-width="8" fill="none"/><ellipse cx="54" cy="40" rx="11" ry="8" fill="#e8f6fc"/></svg>
<div class="a t" id="f65" style="left:1588.0px;top:376.2px;font-size:2.17px;color:#6e6e6e;font-weight:normal;font-family:'Liberation Sans',sans-serif;transform:scaleX(0.5721);">【适应症】本品用于治疗轻、中度原发性高血压。</div>
<div class="a" style="left:1588.0px;top:384.0px;width:7.0px;height:7.0px;background:#136b5a;"></div>
<div class="a" style="left:1589.8px;top:385.8px;width:3.5px;height:3.5px;background:rgba(255,255,255,0.55);"></div>
<div class="a t" id="f66" style="left:1596.4px;top:383.9px;font-size:5.48px;color:#136b5a;font-weight:bold;font-family:'Liberation Sans',sans-serif;transform:scaleX(0.6006);">浙江华海药业股份有限公司</div>
<div class="a" style="left:1596.4px;top:389.7px;width:35.6px;height:1.3px;background:#136b5a;opacity:0.35;"></div>
<div class="a" style="left:1642.0px;top:374.0px;width:1.2px;height:10.0px;background:repeating-linear-gradient(180deg,#555 0 1.6px,transparent 1.6px 3.2px);opacity:0.6;"></div>
<div class="a" style="left:1644.4px;top:374.0px;width:1.2px;height:10.0px;background:repeating-linear-gradient(180deg,#555 0 1.6px,transparent 1.6px 3.2px);opacity:0.6;"></div>
<div class="a" style="left:1646.8px;top:374.0px;width:1.2px;height:10.0px;background:repeating-linear-gradient(180deg,#555 0 1.6px,transparent 1.6px 3.2px);opacity:0.6;"></div>
<div class="a" style="left:1809.8px;top:325.0px;width:16.2px;height:68.0px;background:linear-gradient(90deg,#d3d3d3 0%,#dcdcdc 20%,#e2e2e2 100%);"></div>
<div class="a" style="left:1690.0px;top:325.0px;width:119.8px;height:67.6px;background:linear-gradient(90deg,#f9f9f9 0%,#f1f1f1 55%,#e8e8e8 100%);clip-path:polygon(0 4.6px,100% 0,100% 100%,0 calc(100% - 1.5px));"></div>
<div class="a" style="left:1692.0px;top:329.6px;width:36.0px;height:60.9px;background:#0e7366;"></div>
<svg class="a" style="left:1694.2px;top:332.0px;" width="23.0" height="21.0" viewBox="0 0 23.00 21.00" overflow="visible"><polygon points="0.00,0.50 12.08,0.50 7.29,4.91 4.99,5.08 4.99,10.67 16.10,0.00 23.00,0.00 0.39,21.00" fill="#f4f4f4"/></svg>
<div class="a t" id="f67" style="left:1737.0px;top:333.0px;font-size:4.35px;color:#333;font-weight:bold;font-family:'Liberation Sans',sans-serif;transform:scaleX(1.1060);">缬泽</div>
<div class="a t" id="f68" style="left:1776.0px;top:328.5px;font-size:4.11px;color:#777;font-weight:normal;font-family:'Liberation Sans',sans-serif;transform:scaleX(0.7311);">国药准字H20103126</div>
<div class="a t" id="f69" style="left:1756.7px;top:335.2px;font-size:9.67px;color:#111;font-weight:bold;font-family:'Liberation Sans',sans-serif;transform:scaleX(1.0518);">缬沙坦片</div>
<div class="a t" id="f70" style="left:1757.0px;top:344.3px;font-size:3.56px;color:#1f8a7a;font-weight:normal;font-family:'Liberation Sans',sans-serif;transform:scaleX(1.0492);">Valsartan Tablets</div>
<div class="a t" id="f71" style="left:1740.0px;top:366.3px;font-size:3.33px;color:#444;font-weight:normal;font-family:'Liberation Sans',sans-serif;transform:scaleX(0.6359);">【适应症】本品用于治疗轻、中度原发性高血压。</div>
<div class="a t" id="f72" style="left:1740.0px;top:370.2px;font-size:3.33px;color:#444;font-weight:normal;font-family:'Liberation Sans',sans-serif;transform:scaleX(0.6359);">规格：按本品计每片含主要成分及辅料详见说明书</div>
<div class="a t" id="f73" style="left:1740.0px;top:374.0px;font-size:3.33px;color:#444;font-weight:normal;font-family:'Liberation Sans',sans-serif;transform:scaleX(0.3831);">贮藏：密封，置阴凉干燥处保存。有效期至见包装</div>
<svg class="a" style="left:1783.8px;top:363.0px;" width="16.5" height="16.5" viewBox="0 0 100 100" preserveAspectRatio="xMidYMid meet" overflow="visible"><circle cx="50" cy="50" r="46" fill="none" stroke="#2a9fd6" stroke-width="5" stroke-dasharray="14 6" opacity="0.7"/><circle cx="50" cy="50" r="36" fill="#2a9fd6"/><path d="M22,50 Q50,78 78,48" stroke="#e8f6fc" stroke-width="8" fill="none"/><ellipse cx="54" cy="40" rx="11" ry="8" fill="#e8f6fc"/></svg>
<div class="a" style="left:1740.0px;top:383.0px;width:5.5px;height:5.5px;background:#0e7366;"></div>
<div class="a" style="left:1741.4px;top:384.4px;width:2.8px;height:2.8px;background:rgba(255,255,255,0.55);"></div>
<div class="a t" id="f74" style="left:1746.6px;top:383.0px;font-size:4.30px;color:#0e7366;font-weight:bold;font-family:'Liberation Sans',sans-serif;transform:scaleX(0.9738);">浙江华海药业股份有限公司</div>
<div class="a" style="left:1746.6px;top:387.5px;width:46.4px;height:1.0px;background:#0e7366;opacity:0.35;"></div>
<div class="a" style="left:1813.0px;top:362.0px;width:1.4px;height:11.0px;background:repeating-linear-gradient(180deg,#555 0 1.6px,transparent 1.6px 3.2px);opacity:0.6;"></div>
<div class="a" style="left:1815.8px;top:362.0px;width:1.4px;height:11.0px;background:repeating-linear-gradient(180deg,#555 0 1.6px,transparent 1.6px 3.2px);opacity:0.6;"></div>
<div class="a" style="left:1818.6px;top:362.0px;width:1.4px;height:11.0px;background:repeating-linear-gradient(180deg,#555 0 1.6px,transparent 1.6px 3.2px);opacity:0.6;"></div>
<svg class="a" style="left:681.0px;top:419.0px;" width="35.0" height="113.8" viewBox="0 0 35.00 113.80" overflow="visible"><polygon points="0.00,0.00 35.00,4.30 35.00,110.30 0.00,113.80" fill="#e6e6e6"/></svg>
<svg class="a" style="left:681.0px;top:419.0px;" width="35.0" height="50.0" viewBox="0 0 35.00 50.00" overflow="visible"><polygon points="0.00,0.00 35.00,4.30 35.00,50.00 0.00,48.80" fill="#dc8c16"/></svg>
<svg class="a" style="left:621.4px;top:419.0px;" width="59.6" height="113.8" viewBox="0 0 59.60 113.80" overflow="visible"><polygon points="0.00,2.40 59.60,0.00 59.60,113.80 0.00,110.30" fill="#f1f1f1"/></svg>
<svg class="a" style="left:621.4px;top:419.0px;" width="59.6" height="48.8" viewBox="0 0 59.60 48.80" overflow="visible"><polygon points="0.00,2.40 59.60,0.00 59.60,48.80 0.00,48.80" fill="#e3931a"/></svg>
<svg class="a" style="left:623.4px;top:423.7px;" width="14.8" height="22.0" viewBox="0 0 100 100" preserveAspectRatio="none" overflow="visible"><path d="M75,2 L3,52" fill="none" stroke="#f6f6f6" stroke-width="17"/><path d="M97,46 L28,98" fill="none" stroke="#f6f6f6" stroke-width="17"/><path d="M46,20 C66,26 64,40 48,52 C33,63 31,76 50,86" fill="none" stroke="#f6f6f6" stroke-width="14"/></svg>
<div class="a t" id="f75" style="left:650.0px;top:423.5px;font-size:4.11px;color:#fff;font-weight:normal;font-family:'Liberation Sans',sans-serif;transform:scaleX(0.6775);">国药准字H20100019</div>
<div class="a t" id="f76" style="left:656.0px;top:442.0px;font-size:4.35px;color:#fff;font-weight:bold;font-family:'Liberation Sans',sans-serif;transform:scaleX(1.6123);">艾生特</div>
<div class="a t" id="f77" style="left:630.0px;top:449.6px;font-size:8.59px;color:#fff;font-weight:bold;font-family:'Liberation Sans',sans-serif;transform:scaleX(0.9930);">恩替卡韦片</div>
<div class="a t" id="f78" style="left:637.0px;top:458.3px;font-size:5.48px;color:#fff;font-weight:normal;font-family:'Liberation Sans',sans-serif;transform:scaleX(0.8744);">Entecavir Tablets</div>
<div class="a" style="left:640.0px;top:475.0px;width:21.0px;height:6.5px;border:1px solid #555;border-radius:4px;box-sizing:border-box;"></div>
<div class="a t" id="f79" style="left:643.0px;top:476.5px;font-size:4.35px;color:#222;font-weight:bold;font-family:'Liberation Sans',sans-serif;transform:scaleX(1.0926);">30片/瓶</div>
<svg class="a" style="left:627.0px;top:493.0px;" width="40.0" height="9.5" viewBox="0 0 40.00 9.50" overflow="visible"><polygon points="0.00,1.50 33.00,5.50 39.00,0.00 40.00,1.00 34.00,8.00 0.00,9.50" fill="url(#gora)"/></svg>
<div class="a t" id="f80" style="left:627.5px;top:493.9px;font-size:8.90px;color:#222;font-weight:bold;font-family:'Liberation Sans',sans-serif;transform:scaleX(0.7419);">0.5mg</div>
<div class="a" style="left:666.0px;top:490.0px;width:10.0px;height:1.6px;background:#e3931a;"></div>
<div class="a" style="left:666.0px;top:493.0px;width:8.0px;height:1.6px;background:#e3931a;"></div>
<div class="a" style="left:666.0px;top:496.0px;width:10.0px;height:1.6px;background:#e3931a;"></div>
<div class="a" style="left:666.0px;top:499.0px;width:8.0px;height:1.6px;background:#e3931a;"></div>
<div class="a" style="left:666.0px;top:502.0px;width:10.0px;height:1.6px;background:#e3931a;"></div>
<div class="a" style="left:666.0px;top:505.0px;width:8.0px;height:1.6px;background:#e3931a;"></div>
<div class="a" style="left:632.0px;top:519.0px;width:6.0px;height:6.0px;background:#333;"></div>
<div class="a" style="left:633.5px;top:520.5px;width:3.0px;height:3.0px;background:rgba(255,255,255,0.55);"></div>
<div class="a t" id="f81" style="left:639.2px;top:519.0px;font-size:4.70px;color:#333;font-weight:bold;font-family:'Liberation Sans',sans-serif;transform:scaleX(0.5029);">浙江华海药业股份有限公司</div>
<div class="a" style="left:639.2px;top:523.9px;width:29.8px;height:1.1px;background:#333;opacity:0.35;"></div>
<svg class="a" style="left:684.0px;top:432.0px;" width="13.0" height="10.0" viewBox="0 0 13.00 10.00" overflow="visible"><polygon points="0.00,0.00 13.00,0.00 6.50,10.00" fill="#fff"/></svg>
<svg class="a" style="left:686.5px;top:433.5px;" width="8.0" height="6.0" viewBox="0 0 8.00 6.00" overflow="visible"><polygon points="0.00,0.00 8.00,0.00 4.00,6.00" fill="#dc8c16"/></svg>
<svg class="a" style="left:689.0px;top:434.5px;" width="4.5" height="3.5" viewBox="0 0 4.50 3.50" overflow="visible"><polygon points="0.00,0.00 4.50,0.00 2.00,3.50" fill="#fff"/></svg>
<div class="a t" id="f82" style="left:684.0px;top:424.5px;font-size:4.11px;color:#fff;font-weight:normal;font-family:'Liberation Sans',sans-serif;transform:scaleX(0.7654);">国药准字</div>
<div class="a t" id="f83" style="left:684.0px;top:470.3px;font-size:2.75px;color:#aaa;font-weight:normal;font-family:'Liberation Sans',sans-serif;transform:scaleX(0.4579);">【适应症】本品用于治疗轻、中度原发性高血压。</div>
<div class="a t" id="f84" style="left:684.0px;top:473.5px;font-size:2.75px;color:#aaa;font-weight:normal;font-family:'Liberation Sans',sans-serif;transform:scaleX(0.4579);">规格：按本品计每片含主要成分及辅料详见说明书</div>
<div class="a t" id="f85" style="left:684.0px;top:476.6px;font-size:2.75px;color:#aaa;font-weight:normal;font-family:'Liberation Sans',sans-serif;transform:scaleX(0.4579);">贮藏：密封，置阴凉干燥处保存。有效期至见包装</div>
<div class="a t" id="f86" style="left:684.0px;top:479.8px;font-size:2.75px;color:#aaa;font-weight:normal;font-family:'Liberation Sans',sans-serif;transform:scaleX(0.4797);">批准文号及生产批号详见包装盒侧面打印信息。</div>
<div class="a t" id="f87" style="left:684.0px;top:483.0px;font-size:2.75px;color:#aaa;font-weight:normal;font-family:'Liberation Sans',sans-serif;transform:scaleX(0.4579);">【适应症】本品用于治疗轻、中度原发性高血压。</div>
<div class="a t" id="f88" style="left:684.0px;top:486.1px;font-size:2.75px;color:#aaa;font-weight:normal;font-family:'Liberation Sans',sans-serif;transform:scaleX(0.4579);">规格：按本品计每片含主要成分及辅料详见说明书</div>
<div class="a t" id="f89" style="left:684.0px;top:489.3px;font-size:2.75px;color:#aaa;font-weight:normal;font-family:'Liberation Sans',sans-serif;transform:scaleX(0.4579);">贮藏：密封，置阴凉干燥处保存。有效期至见包装</div>
<div class="a t" id="f90" style="left:684.0px;top:492.5px;font-size:2.75px;color:#aaa;font-weight:normal;font-family:'Liberation Sans',sans-serif;transform:scaleX(0.4797);">批准文号及生产批号详见包装盒侧面打印信息。</div>
<div class="a t" id="f91" style="left:684.0px;top:495.6px;font-size:2.75px;color:#aaa;font-weight:normal;font-family:'Liberation Sans',sans-serif;transform:scaleX(0.4579);">【适应症】本品用于治疗轻、中度原发性高血压。</div>
<div class="a t" id="f92" style="left:684.0px;top:498.8px;font-size:2.75px;color:#aaa;font-weight:normal;font-family:'Liberation Sans',sans-serif;transform:scaleX(0.4579);">规格：按本品计每片含主要成分及辅料详见说明书</div>
<div class="a t" id="f93" style="left:684.0px;top:502.0px;font-size:2.75px;color:#aaa;font-weight:normal;font-family:'Liberation Sans',sans-serif;transform:scaleX(0.4579);">贮藏：密封，置阴凉干燥处保存。有效期至见包装</div>
<div class="a t" id="f94" style="left:684.0px;top:505.1px;font-size:2.75px;color:#aaa;font-weight:normal;font-family:'Liberation Sans',sans-serif;transform:scaleX(0.2892);">批准文号及生产批号详见包装盒侧面打印信息。</div>
<div class="a" style="left:689.0px;top:510.0px;width:21.0px;height:15.0px;border:1px solid #ccc;box-sizing:border-box;background:#ececec;"></div>
<div class="a t" id="f95" style="left:692.0px;top:515.0px;font-size:4.35px;color:#4aa3d8;font-weight:normal;font-family:'Liberation Sans',sans-serif;transform:scaleX(0.9592);">药品条码</div>
<div class="a" style="left:769.0px;top:558.4px;width:18.0px;height:85.6px;background:linear-gradient(90deg,#d3d3d3 0%,#dcdcdc 20%,#e2e2e2 100%);"></div>
<div class="a" style="left:627.0px;top:555.6px;width:142.0px;height:88.4px;background:linear-gradient(90deg,#f9f9f9 0%,#f1f1f1 55%,#e8e8e8 100%);clip-path:polygon(0 7px,100% 0,100% 100%,0 calc(100% - 2.6px));"></div>
<div class="a" style="left:629.0px;top:562.7px;width:45.0px;height:78.7px;background:#51a443;"></div>
<svg class="a" style="left:632.0px;top:567.0px;" width="26.0" height="33.0" viewBox="0 0 26.00 33.00" overflow="visible"><polygon points="0.00,0.79 13.65,0.79 8.24,7.72 5.64,7.99 5.64,16.76 18.20,0.00 26.00,0.00 0.44,33.00" fill="#f4f4f4"/></svg>
<div class="a t" id="f96" style="left:684.0px;top:566.0px;font-size:4.35px;color:#333;font-weight:bold;font-family:'Liberation Sans',sans-serif;transform:scaleX(1.0435);">忆诺</div>
<div class="a t" id="f97" style="left:726.0px;top:562.5px;font-size:4.11px;color:#777;font-weight:normal;font-family:'Liberation Sans',sans-serif;transform:scaleX(0.7848);">国药准字H20163177</div>
<div class="a t" id="f98" style="left:688.7px;top:576.6px;font-size:12.28px;color:#111;font-weight:bold;font-family:'Liberation Sans',sans-serif;transform:scaleX(0.7819);">盐酸多奈哌齐片</div>
<div class="a t" id="f99" style="left:687.0px;top:588.2px;font-size:6.30px;color:#51a443;font-weight:normal;font-family:'Liberation Sans',sans-serif;transform:scaleX(0.7359);">Donepezil Hydrochloride Tablets</div>
<div class="a t" id="f100" style="left:683.0px;top:603.5px;font-size:4.35px;color:#444;font-weight:normal;font-family:'Liberation Sans',sans-serif;transform:scaleX(0.8790);">【适应症】轻度或中度阿尔茨海默病症状的治疗。</div>
<div class="a t" id="f101" style="left:700.0px;top:617.0px;font-size:4.35px;color:#444;font-weight:normal;font-family:'Liberation Sans',sans-serif;transform:scaleX(1.0970);">5mg×7片/板×1板/盒</div>
<svg class="a" style="left:678.0px;top:614.5px;" width="23.0" height="23.0" viewBox="0 0 100 100" preserveAspectRatio="xMidYMid meet" overflow="visible"><circle cx="50" cy="50" r="46" fill="none" stroke="#2a9fd6" stroke-width="5" stroke-dasharray="14 6" opacity="0.7"/><circle cx="50" cy="50" r="36" fill="#2a9fd6"/><path d="M22,50 Q50,78 78,48" stroke="#e8f6fc" stroke-width="8" fill="none"/><ellipse cx="54" cy="40" rx="11" ry="8" fill="#e8f6fc"/></svg>
<div class="a" style="left:703.0px;top:632.0px;width:7.0px;height:7.0px;background:#2e3a87;"></div>
<div class="a" style="left:704.8px;top:633.8px;width:3.5px;height:3.5px;background:rgba(255,255,255,0.55);"></div>
<div class="a t" id="f102" style="left:711.4px;top:631.9px;font-size:5.48px;color:#2e3a87;font-weight:bold;font-family:'Liberation Sans',sans-serif;transform:scaleX(0.8173);">浙江华海药业股份有限公司</div>
<div class="a" style="left:711.4px;top:637.7px;width:48.6px;height:1.3px;background:#2e3a87;opacity:0.35;"></div>
<div class="a" style="left:774.0px;top:625.0px;width:1.6px;height:10.0px;background:repeating-linear-gradient(180deg,#555 0 1.6px,transparent 1.6px 3.2px);opacity:0.6;"></div>
<div class="a" style="left:777.2px;top:625.0px;width:1.6px;height:10.0px;background:repeating-linear-gradient(180deg,#555 0 1.6px,transparent 1.6px 3.2px);opacity:0.6;"></div>
<div class="a" style="left:780.4px;top:625.0px;width:1.6px;height:10.0px;background:repeating-linear-gradient(180deg,#555 0 1.6px,transparent 1.6px 3.2px);opacity:0.6;"></div>
<div class="a" style="left:767.5px;top:669.5px;width:21.1px;height:90.0px;background:linear-gradient(90deg,#d3d3d3 0%,#dcdcdc 20%,#e2e2e2 100%);"></div>
<div class="a" style="left:622.0px;top:668.0px;width:145.5px;height:91.5px;background:linear-gradient(90deg,#f9f9f9 0%,#f1f1f1 55%,#e8e8e8 100%);clip-path:polygon(0 5.7px,100% 0,100% 100%,0 calc(100% - 2.8px));"></div>
<div class="a" style="left:626.3px;top:673.7px;width:47.0px;height:83.0px;background:#b3358a;"></div>
<svg class="a" style="left:626.3px;top:673.7px;overflow:hidden" width="47.0" height="83.0" viewBox="0 0 100 100" preserveAspectRatio="none"><polygon points="47,0 69,0 0,46 0,32" fill="#f4f4f4"/><polygon points="100,46 100,59 49,91 28,91" fill="#f4f4f4"/><path d="M29.6,20.2 C41.6,16.4 60.5,19.1 60.5,29.5 C60.5,35.5 55.3,38.8 45,46.4 L39.9,50.8 C31.3,57.4 31.3,71 52.6,73.8 L70,76" fill="none" stroke="#f4f4f4" stroke-width="7.99" vector-effect="non-scaling-stroke" stroke-linecap="butt"/></svg>
<div class="a" style="left:637.0px;top:750.0px;width:4.5px;height:4.5px;border:0.8px solid #fff;box-sizing:border-box;"></div>
<div class="a t" id="f103" style="left:642.6px;top:750.0px;font-size:4.89px;color:#fff;font-weight:bold;font-family:'Liberation Sans',sans-serif;transform:scaleX(1.2896);">华海药业</div>
<div class="a t" id="f104" style="left:677.0px;top:677.9px;font-size:5.43px;color:#b3358a;font-weight:bold;font-family:'Liberation Sans',sans-serif;transform:scaleX(1.0290);">华普瑞</div>
<div class="a t" id="f105" style="left:728.0px;top:673.5px;font-size:4.11px;color:#555;font-weight:normal;font-family:'Liberation Sans',sans-serif;transform:scaleX(0.7580);">国药准字H20203181</div>
<div class="a t" id="f106" style="left:677.5px;top:684.9px;font-size:12.17px;color:#111;font-weight:bold;font-family:'Liberation Sans',sans-serif;transform:scaleX(1.0810);">拉 莫 三 嗪 片</div>
<svg class="a" style="left:681.0px;top:701.0px;" width="10.0" height="10.0" viewBox="0 0 100 100" preserveAspectRatio="xMidYMid meet" overflow="visible"><circle cx="50" cy="50" r="46" fill="none" stroke="#2a9fd6" stroke-width="5" stroke-dasharray="14 6" opacity="0.7"/><circle cx="50" cy="50" r="36" fill="#2a9fd6"/><path d="M22,50 Q50,78 78,48" stroke="#e8f6fc" stroke-width="8" fill="none"/><ellipse cx="54" cy="40" rx="11" ry="8" fill="#e8f6fc"/></svg>
<svg class="a" style="left:719.7px;top:730.0px;" width="36.3" height="22.5" viewBox="0 0 100 100" preserveAspectRatio="none" overflow="visible"><path d="M42,3 C-5,10 -5,90 42,97" fill="none" stroke="#b3358a" stroke-width="1.69" vector-effect="non-scaling-stroke"/><path d="M80,13 C104,30 104,74 80,88" fill="none" stroke="#b3358a" stroke-width="0.9" opacity="0.55" vector-effect="non-scaling-stroke"/><path d="M62,6 L42,94" fill="none" stroke="#cfcfcf" stroke-width="0.6" vector-effect="non-scaling-stroke"/></svg>
<div class="a t" id="f107" style="left:725.5px;top:736.2px;font-size:10.48px;color:#b3358a;font-weight:normal;font-family:'Liberation Sans',sans-serif;transform:scaleX(0.6252);"><b>50</b><span style="font-size:0.68em;opacity:0.55">mg</span><span style="font-size:0.8em">x</span><b>30</b><span style="font-size:0.6em;opacity:0.55">片</span></div>
<div class="a" style="left:772.0px;top:737.0px;width:1.6px;height:10.0px;background:repeating-linear-gradient(180deg,#555 0 1.6px,transparent 1.6px 3.2px);opacity:0.6;"></div>
<div class="a" style="left:775.2px;top:737.0px;width:1.6px;height:10.0px;background:repeating-linear-gradient(180deg,#555 0 1.6px,transparent 1.6px 3.2px);opacity:0.6;"></div>
<div class="a" style="left:778.4px;top:737.0px;width:1.6px;height:10.0px;background:repeating-linear-gradient(180deg,#555 0 1.6px,transparent 1.6px 3.2px);opacity:0.6;"></div>
<svg class="a" style="left:902.5px;top:646.6px;" width="32.3" height="118.0" viewBox="0 0 32.30 118.00" overflow="visible"><polygon points="0.00,0.00 32.30,4.90 32.30,111.40 0.00,118.00" fill="#e6e6e6"/></svg>
<svg class="a" style="left:902.5px;top:646.6px;" width="32.3" height="50.8" viewBox="0 0 32.30 50.80" overflow="visible"><polygon points="0.00,0.00 32.30,4.90 32.30,49.90 0.00,50.80" fill="#55288a"/></svg>
<svg class="a" style="left:840.0px;top:646.6px;" width="62.5" height="118.0" viewBox="0 0 62.50 118.00" overflow="visible"><polygon points="0.00,3.20 62.50,0.00 62.50,118.00 0.00,114.70" fill="#f1f1f1"/></svg>
<svg class="a" style="left:840.0px;top:646.6px;" width="62.5" height="50.8" viewBox="0 0 62.50 50.80" overflow="visible"><polygon points="0.00,3.20 62.50,0.00 62.50,50.80 0.00,50.80" fill="#5a2a8e"/></svg>
<svg class="a" style="left:841.3px;top:651.3px;" width="15.8" height="23.2" viewBox="0 0 100 100" preserveAspectRatio="none" overflow="visible"><path d="M75,2 L3,52" fill="none" stroke="#f6f6f6" stroke-width="17"/><path d="M97,46 L28,98" fill="none" stroke="#f6f6f6" stroke-width="17"/><path d="M46,20 C66,26 64,40 48,52 C33,63 31,76 50,86" fill="none" stroke="#f6f6f6" stroke-width="14"/></svg>
<div class="a t" id="f108" style="left:868.0px;top:651.5px;font-size:4.11px;color:#ddd;font-weight:normal;font-family:'Liberation Sans',sans-serif;transform:scaleX(0.6775);">国药准字H20203326</div>
<div class="a t" id="f109" style="left:871.0px;top:671.0px;font-size:4.35px;color:#fff;font-weight:bold;font-family:'Liberation Sans',sans-serif;transform:scaleX(1.6123);">润妥通</div>
<div class="a t" id="f110" style="left:841.0px;top:680.9px;font-size:10.87px;color:#fff;font-weight:bold;font-family:'Liberation Sans',sans-serif;transform:scaleX(0.6235);">左乙拉西坦缓释片</div>
<div class="a t" id="f111" style="left:843.0px;top:692.5px;font-size:4.11px;color:#ddd;font-weight:normal;font-family:'Liberation Sans',sans-serif;transform:scaleX(0.6774);">Levetiracetam Sustained-release Tablets</div>
<div class="a" style="left:858.0px;top:706.0px;width:20.0px;height:7.0px;border:1px solid #555;border-radius:4px;box-sizing:border-box;"></div>
<div class="a t" id="f112" style="left:861.0px;top:707.5px;font-size:4.35px;color:#222;font-weight:bold;font-family:'Liberation Sans',sans-serif;transform:scaleX(1.0214);">30片/瓶</div>
<svg class="a" style="left:848.0px;top:725.5px;" width="37.0" height="7.8" viewBox="0 0 37.00 7.80" overflow="visible"><polygon points="0.00,0.00 30.00,4.20 36.00,0.00 37.00,1.00 31.00,6.30 0.00,7.80" fill="url(#gpur)"/></svg>
<svg width="0" height="0" style="position:absolute"><defs><linearGradient id="gpur" x1="0" x2="1"><stop offset="0" stop-color="#5a2a8e" stop-opacity="0.15"/><stop offset="0.5" stop-color="#5a2a8e"/></linearGradient><linearGradient id="gora" x1="0" x2="1"><stop offset="0" stop-color="#e3931a" stop-opacity="0.15"/><stop offset="0.5" stop-color="#e3931a"/></linearGradient></defs></svg>
<div class="a t" id="f113" style="left:847.0px;top:725.1px;font-size:7.53px;color:#222;font-weight:bold;font-family:'Liberation Sans',sans-serif;transform:scaleX(0.8940);">0.5g</div>
<div class="a" style="left:884.8px;top:720.0px;width:10.8px;height:1.8px;background:#5a2a8e;"></div>
<div class="a" style="left:884.8px;top:723.6px;width:9.3px;height:1.8px;background:#5a2a8e;"></div>
<div class="a" style="left:884.8px;top:727.2px;width:10.8px;height:1.8px;background:#5a2a8e;"></div>
<div class="a" style="left:884.8px;top:730.8px;width:9.3px;height:1.8px;background:#5a2a8e;"></div>
<div class="a" style="left:884.8px;top:734.4px;width:10.8px;height:1.8px;background:#5a2a8e;"></div>
<div class="a" style="left:884.8px;top:738.0px;width:9.3px;height:1.8px;background:#5a2a8e;"></div>
<div class="a" style="left:850.0px;top:751.0px;width:5.0px;height:5.0px;background:#333;"></div>
<div class="a" style="left:851.2px;top:752.2px;width:2.5px;height:2.5px;background:rgba(255,255,255,0.55);"></div>
<div class="a t" id="f114" style="left:856.0px;top:751.0px;font-size:3.91px;color:#333;font-weight:bold;font-family:'Liberation Sans',sans-serif;transform:scaleX(0.6732);">浙江华海药业股份有限公司</div>
<div class="a" style="left:856.0px;top:755.1px;width:32.0px;height:0.9px;background:#333;opacity:0.35;"></div>
<svg class="a" style="left:903.0px;top:659.0px;" width="12.0" height="9.0" viewBox="0 0 12.00 9.00" overflow="visible"><polygon points="0.00,0.00 12.00,0.00 6.00,9.00" fill="#fff"/></svg>
<svg class="a" style="left:905.3px;top:660.4px;" width="7.4" height="5.6" viewBox="0 0 7.40 5.60" overflow="visible"><polygon points="0.00,0.00 7.40,0.00 3.70,5.60" fill="#55288a"/></svg>
<svg class="a" style="left:907.5px;top:661.2px;" width="4.0" height="3.3" viewBox="0 0 4.00 3.30" overflow="visible"><polygon points="0.00,0.00 4.00,0.00 2.00,3.30" fill="#fff"/></svg>
<div class="a t" id="f115" style="left:904.0px;top:700.3px;font-size:2.75px;color:#aaa;font-weight:normal;font-family:'Liberation Sans',sans-serif;transform:scaleX(0.4276);">【适应症】本品用于治疗轻、中度原发性高血压。</div>
<div class="a t" id="f116" style="left:904.0px;top:703.5px;font-size:2.75px;color:#aaa;font-weight:normal;font-family:'Liberation Sans',sans-serif;transform:scaleX(0.4276);">规格：按本品计每片含主要成分及辅料详见说明书</div>
<div class="a t" id="f117" style="left:904.0px;top:706.6px;font-size:2.75px;color:#aaa;font-weight:normal;font-family:'Liberation Sans',sans-serif;transform:scaleX(0.4276);">贮藏：密封，置阴凉干燥处保存。有效期至见包装</div>
<div class="a t" id="f118" style="left:904.0px;top:709.8px;font-size:2.75px;color:#aaa;font-weight:normal;font-family:'Liberation Sans',sans-serif;transform:scaleX(0.4479);">批准文号及生产批号详见包装盒侧面打印信息。</div>
<div class="a t" id="f119" style="left:904.0px;top:713.0px;font-size:2.75px;color:#aaa;font-weight:normal;font-family:'Liberation Sans',sans-serif;transform:scaleX(0.4276);">【适应症】本品用于治疗轻、中度原发性高血压。</div>
<div class="a t" id="f120" style="left:904.0px;top:716.1px;font-size:2.75px;color:#aaa;font-weight:normal;font-family:'Liberation Sans',sans-serif;transform:scaleX(0.4276);">规格：按本品计每片含主要成分及辅料详见说明书</div>
<div class="a t" id="f121" style="left:904.0px;top:719.3px;font-size:2.75px;color:#aaa;font-weight:normal;font-family:'Liberation Sans',sans-serif;transform:scaleX(0.4276);">贮藏：密封，置阴凉干燥处保存。有效期至见包装</div>
<div class="a t" id="f122" style="left:904.0px;top:722.5px;font-size:2.75px;color:#aaa;font-weight:normal;font-family:'Liberation Sans',sans-serif;transform:scaleX(0.4479);">批准文号及生产批号详见包装盒侧面打印信息。</div>
<div class="a t" id="f123" style="left:904.0px;top:725.6px;font-size:2.75px;color:#aaa;font-weight:normal;font-family:'Liberation Sans',sans-serif;transform:scaleX(0.4276);">【适应症】本品用于治疗轻、中度原发性高血压。</div>
<div class="a t" id="f124" style="left:904.0px;top:728.8px;font-size:2.75px;color:#aaa;font-weight:normal;font-family:'Liberation Sans',sans-serif;transform:scaleX(0.4276);">规格：按本品计每片含主要成分及辅料详见说明书</div>
<div class="a t" id="f125" style="left:904.0px;top:732.0px;font-size:2.75px;color:#aaa;font-weight:normal;font-family:'Liberation Sans',sans-serif;transform:scaleX(0.4276);">贮藏：密封，置阴凉干燥处保存。有效期至见包装</div>
<div class="a t" id="f126" style="left:904.0px;top:735.1px;font-size:2.75px;color:#aaa;font-weight:normal;font-family:'Liberation Sans',sans-serif;transform:scaleX(0.2702);">批准文号及生产批号详见包装盒侧面打印信息。</div>
<div class="a" style="left:906.0px;top:740.0px;width:20.0px;height:13.0px;border:1px solid #ccc;box-sizing:border-box;background:#ececec;"></div>
<div class="a t" id="f127" style="left:909.0px;top:745.0px;font-size:3.26px;color:#4aa3d8;font-weight:normal;font-family:'Liberation Sans',sans-serif;transform:scaleX(1.1884);">药品条码</div>
<div class="a" style="left:1119.0px;top:666.7px;width:18.0px;height:90.3px;background:linear-gradient(90deg,#d3d3d3 0%,#dcdcdc 20%,#e2e2e2 100%);"></div>
<div class="a" style="left:986.0px;top:667.5px;width:133.0px;height:89.5px;background:linear-gradient(90deg,#f9f9f9 0%,#f1f1f1 55%,#e8e8e8 100%);clip-path:polygon(0 6px,100% 0,100% 100%,0 calc(100% - 1.5px));"></div>
<div class="a" style="left:989.6px;top:678.0px;width:43.4px;height:77.0px;background:#9a60a8;"></div>
<svg class="a" style="left:989.6px;top:678.0px;overflow:hidden" width="43.4" height="77.0" viewBox="0 0 100 100" preserveAspectRatio="none"><polygon points="47,0 69,0 0,46 0,32" fill="#f4f4f4"/><polygon points="100,46 100,59 49,91 28,91" fill="#f4f4f4"/><path d="M29.6,20.2 C41.6,16.4 60.5,19.1 60.5,29.5 C60.5,35.5 55.3,38.8 45,46.4 L39.9,50.8 C31.3,57.4 31.3,71 52.6,73.8 L70,76" fill="none" stroke="#f4f4f4" stroke-width="7.38" vector-effect="non-scaling-stroke" stroke-linecap="butt"/></svg>
<div class="a" style="left:998.0px;top:748.0px;width:4.5px;height:4.5px;border:0.8px solid #fff;box-sizing:border-box;"></div>
<div class="a t" id="f128" style="left:1003.6px;top:748.0px;font-size:4.89px;color:#fff;font-weight:bold;font-family:'Liberation Sans',sans-serif;transform:scaleX(1.1396);">华海药业</div>
<div class="a t" id="f129" style="left:1039.0px;top:677.9px;font-size:6.52px;color:#9a60a8;font-weight:bold;font-family:'Liberation Sans',sans-serif;transform:scaleX(0.7867);">润妥通</div>
<div class="a t" id="f130" style="left:1087.0px;top:672.5px;font-size:4.11px;color:#555;font-weight:normal;font-family:'Liberation Sans',sans-serif;transform:scaleX(0.5701);">国药准字H20203326</div>
<div class="a t" id="f131" style="left:1039.0px;top:681.8px;font-size:15.22px;color:#111;font-weight:bold;font-family:'Liberation Sans',sans-serif;transform:scaleX(0.7913);">左乙拉西坦片</div>
<svg class="a" style="left:1039.0px;top:700.0px;" width="10.0" height="10.0" viewBox="0 0 100 100" preserveAspectRatio="xMidYMid meet" overflow="visible"><circle cx="50" cy="50" r="46" fill="none" stroke="#2a9fd6" stroke-width="5" stroke-dasharray="14 6" opacity="0.7"/><circle cx="50" cy="50" r="36" fill="#2a9fd6"/><path d="M22,50 Q50,78 78,48" stroke="#e8f6fc" stroke-width="8" fill="none"/><ellipse cx="54" cy="40" rx="11" ry="8" fill="#e8f6fc"/></svg>
<svg class="a" style="left:1075.0px;top:726.0px;" width="37.0" height="24.0" viewBox="0 0 100 100" preserveAspectRatio="none" overflow="visible"><path d="M42,3 C-5,10 -5,90 42,97" fill="none" stroke="#9a60a8" stroke-width="1.80" vector-effect="non-scaling-stroke"/><path d="M80,13 C104,30 104,74 80,88" fill="none" stroke="#9a60a8" stroke-width="0.9" opacity="0.55" vector-effect="non-scaling-stroke"/><path d="M62,6 L42,94" fill="none" stroke="#cfcfcf" stroke-width="0.6" vector-effect="non-scaling-stroke"/></svg>
<div class="a t" id="f132" style="left:1080.9px;top:732.6px;font-size:11.18px;color:#9a60a8;font-weight:normal;font-family:'Liberation Sans',sans-serif;transform:scaleX(0.5212);"><b>250</b><span style="font-size:0.68em;opacity:0.55">mg</span><span style="font-size:0.8em">x</span><b>30</b><span style="font-size:0.6em;opacity:0.55">片</span></div>
<div class="a" style="left:1123.0px;top:735.0px;width:1.6px;height:11.0px;background:repeating-linear-gradient(180deg,#555 0 1.6px,transparent 1.6px 3.2px);opacity:0.6;"></div>
<div class="a" style="left:1126.2px;top:735.0px;width:1.6px;height:11.0px;background:repeating-linear-gradient(180deg,#555 0 1.6px,transparent 1.6px 3.2px);opacity:0.6;"></div>
<div class="a" style="left:1129.4px;top:735.0px;width:1.6px;height:11.0px;background:repeating-linear-gradient(180deg,#555 0 1.6px,transparent 1.6px 3.2px);opacity:0.6;"></div>
<div class="a" style="left:778.3px;top:786.2px;width:14.7px;height:81.6px;background:linear-gradient(90deg,#d0d0d0 0%,#d8d8d8 20%,#dcdcdc 100%);"></div>
<div class="a" style="left:758.9px;top:786.2px;width:19.4px;height:81.6px;background:linear-gradient(90deg,#e9e9e9 0%,#e4e4e4 60%,#dedede 100%);box-shadow:0 1px 1px rgba(0,0,0,0.07);"></div>
<div class="a t" id="f133" style="left:759.0px;top:791.5px;font-size:4.11px;color:#777;font-weight:normal;font-family:'Liberation Sans',sans-serif;transform:scaleX(0.7807);">H20050</div>
<div class="a t" id="f134" style="left:759.0px;top:827.3px;font-size:2.78px;color:#6e6e6e;font-weight:normal;font-family:'Liberation Sans',sans-serif;transform:scaleX(0.2003);">【适应症】本品用于治疗轻、中度原发性高血压。</div>
<div class="a t" id="f135" style="left:759.0px;top:830.5px;font-size:2.78px;color:#6e6e6e;font-weight:normal;font-family:'Liberation Sans',sans-serif;transform:scaleX(0.2003);">规格：按本品计每片含主要成分及辅料详见说明书</div>
<div class="a t" id="f136" style="left:759.0px;top:833.7px;font-size:2.78px;color:#6e6e6e;font-weight:normal;font-family:'Liberation Sans',sans-serif;transform:scaleX(0.2003);">贮藏：密封，置阴凉干燥处保存。有效期至见包装</div>
<div class="a t" id="f137" style="left:759.0px;top:836.9px;font-size:2.78px;color:#6e6e6e;font-weight:normal;font-family:'Liberation Sans',sans-serif;transform:scaleX(0.2099);">批准文号及生产批号详见包装盒侧面打印信息。</div>
<div class="a t" id="f138" style="left:759.0px;top:840.1px;font-size:2.78px;color:#6e6e6e;font-weight:normal;font-family:'Liberation Sans',sans-serif;transform:scaleX(0.1216);">【适应症】本品用于治疗轻、中度原发性高血压。</div>
<div class="a" style="left:759.0px;top:857.0px;width:8.0px;height:8.0px;background:#0b56aa;"></div>
<div class="a" style="left:761.0px;top:859.0px;width:4.0px;height:4.0px;background:rgba(255,255,255,0.55);"></div>
<div class="a t" id="f139" style="left:768.6px;top:856.9px;font-size:6.26px;color:#0b56aa;font-weight:bold;font-family:'Liberation Sans',sans-serif;transform:scaleX(0.0542);">浙江华海药业股份有限公司</div>
<div class="a" style="left:768.6px;top:863.6px;width:3.4px;height:1.4px;background:#0b56aa;opacity:0.35;"></div>
<div class="a" style="left:782.0px;top:848.0px;width:1.6px;height:10.0px;background:repeating-linear-gradient(180deg,#555 0 1.6px,transparent 1.6px 3.2px);opacity:0.6;"></div>
<div class="a" style="left:785.2px;top:848.0px;width:1.6px;height:10.0px;background:repeating-linear-gradient(180deg,#555 0 1.6px,transparent 1.6px 3.2px);opacity:0.6;"></div>
<div class="a" style="left:788.4px;top:848.0px;width:1.6px;height:10.0px;background:repeating-linear-gradient(180deg,#555 0 1.6px,transparent 1.6px 3.2px);opacity:0.6;"></div>
<div class="a" style="left:740.4px;top:783.8px;width:18.5px;height:85.5px;background:linear-gradient(90deg,#d0d0d0 0%,#d8d8d8 20%,#dcdcdc 100%);"></div>
<div class="a" style="left:623.8px;top:783.8px;width:116.6px;height:85.5px;background:linear-gradient(90deg,#e9e9e9 0%,#e4e4e4 60%,#dedede 100%);clip-path:polygon(0 5.3px,100% 0,100% 100%,0 calc(100% - 3.9px));"></div>
<div class="a" style="left:623.8px;top:789.0px;width:37.0px;height:76.4px;background:#0b56aa;"></div>
<svg class="a" style="left:626.0px;top:797.0px;" width="22.0" height="33.0" viewBox="0 0 22.00 33.00" overflow="visible"><polygon points="0.00,0.79 11.55,0.79 6.97,7.72 4.77,7.99 4.77,16.76 15.40,0.00 22.00,0.00 0.37,33.00" fill="#f4f4f4"/></svg>
<div class="a t" id="f140" style="left:665.5px;top:796.9px;font-size:4.24px;color:#222;font-weight:bold;font-family:'Liberation Sans',sans-serif;transform:scaleX(1.0174);">索乐</div>
<div class="a t" id="f141" style="left:705.0px;top:792.1px;font-size:3.42px;color:#777;font-weight:normal;font-family:'Liberation Sans',sans-serif;transform:scaleX(0.8508);">国药准字H20050290</div>
<div class="a t" id="f142" style="left:671.0px;top:806.5px;font-size:14.78px;color:#111;font-weight:bold;font-family:'Liberation Sans',sans-serif;transform:scaleX(0.7797);">利培酮片</div>
<div class="a t" id="f143" style="left:671.4px;top:821.1px;font-size:5.34px;color:#3d6fc0;font-weight:normal;font-family:'Liberation Sans',sans-serif;transform:scaleX(0.7049);">Risperidone Tablets</div>
<div class="a t" id="f144" style="left:671.4px;top:827.3px;font-size:2.39px;color:#6e6e6e;font-weight:normal;font-family:'Liberation Sans',sans-serif;transform:scaleX(1.3521);">【适应症】本品用于治疗轻、中度原发性高血压。</div>
<div class="a t" id="f145" style="left:671.4px;top:830.0px;font-size:2.39px;color:#6e6e6e;font-weight:normal;font-family:'Liberation Sans',sans-serif;transform:scaleX(1.3521);">规格：按本品计每片含主要成分及辅料详见说明书</div>
<div class="a t" id="f146" style="left:671.4px;top:832.8px;font-size:2.39px;color:#6e6e6e;font-weight:normal;font-family:'Liberation Sans',sans-serif;transform:scaleX(1.3521);">贮藏：密封，置阴凉干燥处保存。有效期至见包装</div>
<div class="a t" id="f147" style="left:671.4px;top:835.5px;font-size:2.39px;color:#6e6e6e;font-weight:normal;font-family:'Liberation Sans',sans-serif;transform:scaleX(1.4165);">批准文号及生产批号详见包装盒侧面打印信息。</div>
<div class="a t" id="f148" style="left:671.4px;top:838.3px;font-size:2.39px;color:#6e6e6e;font-weight:normal;font-family:'Liberation Sans',sans-serif;transform:scaleX(1.3521);">【适应症】本品用于治疗轻、中度原发性高血压。</div>
<div class="a t" id="f149" style="left:671.4px;top:841.0px;font-size:2.39px;color:#6e6e6e;font-weight:normal;font-family:'Liberation Sans',sans-serif;transform:scaleX(0.8130);">规格：按本品计每片含主要成分及辅料详见说明书</div>
<svg class="a" style="left:665.0px;top:844.8px;" width="14.0" height="14.0" viewBox="0 0 100 100" preserveAspectRatio="xMidYMid meet" overflow="visible"><circle cx="50" cy="50" r="46" fill="none" stroke="#2a9fd6" stroke-width="5" stroke-dasharray="14 6" opacity="0.7"/><circle cx="50" cy="50" r="36" fill="#2a9fd6"/><path d="M22,50 Q50,78 78,48" stroke="#e8f6fc" stroke-width="8" fill="none"/><ellipse cx="54" cy="40" rx="11" ry="8" fill="#e8f6fc"/></svg>
<div class="a t" id="f150" style="left:681.0px;top:847.3px;font-size:2.61px;color:#6e6e6e;font-weight:normal;font-family:'Liberation Sans',sans-serif;transform:scaleX(0.4123);">【适应症】本品用于治疗轻、中度原发性高血压。</div>
<div class="a" style="left:680.0px;top:856.7px;width:8.7px;height:8.7px;background:#0b56aa;"></div>
<div class="a" style="left:682.2px;top:858.9px;width:4.4px;height:4.4px;background:rgba(255,255,255,0.55);"></div>
<div class="a t" id="f151" style="left:690.4px;top:856.6px;font-size:6.81px;color:#0b56aa;font-weight:bold;font-family:'Liberation Sans',sans-serif;transform:scaleX(0.4774);">浙江华海药业股份有限公司</div>
<div class="a" style="left:690.4px;top:863.8px;width:39.6px;height:1.6px;background:#0b56aa;opacity:0.35;"></div>
<div class="a" style="left:745.0px;top:849.0px;width:1.4px;height:11.0px;background:repeating-linear-gradient(180deg,#555 0 1.6px,transparent 1.6px 3.2px);opacity:0.6;"></div>
<div class="a" style="left:747.8px;top:849.0px;width:1.4px;height:11.0px;background:repeating-linear-gradient(180deg,#555 0 1.6px,transparent 1.6px 3.2px);opacity:0.6;"></div>
<div class="a" style="left:750.6px;top:849.0px;width:1.4px;height:11.0px;background:repeating-linear-gradient(180deg,#555 0 1.6px,transparent 1.6px 3.2px);opacity:0.6;"></div>
<div class="a" style="left:817.4px;top:785.9px;width:166.8px;height:81.1px;background:#f7f7f7;border-radius:3px;box-shadow:0 1px 2px rgba(0,0,0,0.08);"></div>
<div class="a" style="left:824.8px;top:787.0px;width:159.4px;height:63.2px;background:linear-gradient(160deg,#b8d45a 0%,#cfe07a 35%,#e6eeb0 75%,#f2f5dc 100%);"></div>
<svg class="a" style="left:824.8px;top:787.0px;" width="159.4" height="63.2" viewBox="0 0 100 100" preserveAspectRatio="none" overflow="visible"><path d="M0,28 C30,10 60,40 80,75 C88,90 100,60 100,55" fill="none" stroke="#7dbb3a" stroke-width="3" opacity="0.8"/><path d="M0,34 C35,18 58,48 78,80" fill="none" stroke="#f6f8a0" stroke-width="2" opacity="0.9"/><polygon points="82,0 100,0 100,30" fill="#6fb534" opacity="0.7"/><polygon points="0,92 11.1,92 15.4,97.3 100,97.3 100,100 0,100" fill="#f7f7f7"/><path d="M0.6,101 L0.6,92 L11.1,92 L15.4,97.3 L100,97.3" fill="none" stroke="#7cba3a" stroke-width="2.2" vector-effect="non-scaling-stroke"/></svg>
<div class="a t" id="f152" style="left:837.0px;top:793.9px;font-size:5.43px;color:#222;font-weight:bold;font-family:'Liberation Sans',sans-serif;transform:scaleX(1.2435);">索乐</div>
<div class="a t" id="f153" style="left:924.8px;top:791.2px;font-size:4.79px;color:#4a8a2a;font-weight:bold;font-family:'Liberation Sans',sans-serif;transform:scaleX(0.7575);">国药准字H20130049</div>
<div class="a t" id="f154" style="left:895.6px;top:803.9px;font-size:9.35px;color:#111;font-weight:bold;font-family:'Liberation Sans',sans-serif;transform:scaleX(1.0305);">利培酮分散片</div>
<div class="a t" id="f155" style="left:895.6px;top:815.3px;font-size:6.16px;color:#222;font-weight:bold;font-family:'Liberation Sans',sans-serif;transform:scaleX(0.7939);">Risperidone Dispersible Tablets</div>
<div class="a" style="left:857.0px;top:838.3px;width:7.0px;height:7.0px;background:#2f8a3a;"></div>
<div class="a" style="left:858.8px;top:840.0px;width:3.5px;height:3.5px;background:rgba(255,255,255,0.55);"></div>
<div class="a t" id="f156" style="left:865.4px;top:838.2px;font-size:5.48px;color:#2f8a3a;font-weight:bold;font-family:'Liberation Sans',sans-serif;transform:scaleX(0.8173);">浙江华海药业股份有限公司</div>
<div class="a" style="left:865.4px;top:844.0px;width:48.6px;height:1.3px;background:#2f8a3a;opacity:0.35;"></div>
<div class="a" style="left:962.4px;top:830.4px;width:13.9px;height:13.9px;border:1.5px solid #8cc63f;border-radius:50%;box-sizing:border-box;background:#f4f8e4;"></div>
<div class="a t" id="f157" style="left:965.0px;top:835.0px;font-size:4.89px;color:#222;font-weight:bold;font-family:'Liberation Sans',sans-serif;transform:scaleX(0.8998);">30片</div>
<div class="a t" id="f158" style="left:952.5px;top:838.5px;font-size:4.11px;color:#333;font-weight:normal;font-family:'Liberation Sans',sans-serif;transform:scaleX(0.9683);">3mg</div>
<div class="a t" id="f159" style="left:832.0px;top:855.8px;font-size:3.04px;color:#8a8a8a;font-weight:normal;font-family:'Liberation Sans',sans-serif;transform:scaleX(2.2310);">【适应症】本品用于治疗轻、中度原发性高血压。</div>
<div class="a t" id="f160" style="left:832.0px;top:859.3px;font-size:3.04px;color:#8a8a8a;font-weight:normal;font-family:'Liberation Sans',sans-serif;transform:scaleX(2.2310);">规格：按本品计每片含主要成分及辅料详见说明书</div>
<div class="a t" id="f161" style="left:832.0px;top:862.8px;font-size:3.04px;color:#8a8a8a;font-weight:normal;font-family:'Liberation Sans',sans-serif;transform:scaleX(1.3401);">贮藏：密封，置阴凉干燥处保存。有效期至见包装</div>
<div class="a" style="left:832.0px;top:868.0px;width:147.0px;height:10.0px;background:repeating-linear-gradient(180deg,#e2e2e2 0 1px,transparent 1px 3px);opacity:0.6;"></div>
<div class="a" style="left:1181.0px;top:778.0px;width:24.0px;height:94.0px;background:linear-gradient(90deg,#d3d3d3 0%,#dcdcdc 20%,#e2e2e2 100%);"></div>
<div class="a" style="left:1010.9px;top:777.0px;width:170.1px;height:95.0px;background:linear-gradient(180deg,#e2e2e2 0,#e2e2e2 6px,#f4f4f4 6px,#efefef 100%);"></div>
<div class="a" style="left:1012.6px;top:783.9px;width:54.4px;height:84.6px;background:#06216f;"></div>
<svg class="a" style="left:1015.5px;top:789.0px;" width="39.5" height="33.0" viewBox="0 0 39.50 33.00" overflow="visible"><polygon points="0.00,0.79 20.74,0.79 12.52,7.72 8.57,7.99 8.57,16.76 27.65,0.00 39.50,0.00 0.67,33.00" fill="#f4f4f4"/></svg>
<div class="a t" id="f162" style="left:1080.8px;top:789.5px;font-size:6.30px;color:#333;font-weight:bold;font-family:'Liberation Sans',sans-serif;transform:scaleX(1.0920);">索清</div>
<div class="a t" id="f163" style="left:1131.0px;top:785.0px;font-size:4.66px;color:#777;font-weight:normal;font-family:'Liberation Sans',sans-serif;transform:scaleX(0.7910);">国药准字H20203074</div>
<div class="a t" id="f164" style="left:1080.8px;top:797.8px;font-size:15.87px;color:#111;font-weight:bold;font-family:'Liberation Sans',sans-serif;transform:scaleX(0.9052);">阿 立 哌 唑 片</div>
<div class="a t" id="f165" style="left:1114.6px;top:814.7px;font-size:5.48px;color:#333;font-weight:normal;font-family:'Liberation Sans',sans-serif;transform:scaleX(1.1135);">Aripiprazole  Tablets</div>
<svg class="a" style="left:1072.0px;top:820.0px;" width="109.0" height="19.6" viewBox="0 0 109.00 19.60" overflow="visible"><polygon points="0.00,0.00 109.00,15.60 109.00,19.60 0.00,11.60" fill="url(#gblue)"/></svg>
<svg width="0" height="0" style="position:absolute"><defs><linearGradient id="gblue" x1="0" x2="1" y1="0" y2="0"><stop offset="0" stop-color="#2aa6dd" stop-opacity="0"/><stop offset="0.22" stop-color="#38b0e4" stop-opacity="0.85"/><stop offset="1" stop-color="#1d9ad6"/></linearGradient></defs></svg>
<div class="a t" id="f166" style="left:1080.0px;top:823.1px;font-size:12.60px;color:#111;font-weight:bold;font-family:'Liberation Sans',sans-serif;transform:scaleX(0.9440);">5mg</div>
<div class="a t" id="f167" style="left:1101.4px;top:840.6px;font-size:3.70px;color:#444;font-weight:normal;font-family:'Liberation Sans',sans-serif;transform:scaleX(1.0073);">【适应症】本品用于治疗精神分裂症。</div>
<div class="a" style="left:1140.0px;top:849.5px;width:6.0px;height:6.5px;border:1.2px solid #2a9fd6;border-radius:50%;box-sizing:border-box;border-right-color:transparent;"></div>
<div class="a t" id="f168" style="left:1142.0px;top:849.7px;font-size:6.20px;color:#111;font-weight:bold;font-family:'Liberation Sans',sans-serif;transform:scaleX(1.3632);">30片/盒</div>
<svg class="a" style="left:1074.2px;top:845.5px;" width="22.5" height="22.5" viewBox="0 0 100 100" preserveAspectRatio="xMidYMid meet" overflow="visible"><circle cx="50" cy="50" r="46" fill="none" stroke="#2a9fd6" stroke-width="5" stroke-dasharray="14 6" opacity="0.7"/><circle cx="50" cy="50" r="36" fill="#2a9fd6"/><path d="M22,50 Q50,78 78,48" stroke="#e8f6fc" stroke-width="8" fill="none"/><ellipse cx="54" cy="40" rx="11" ry="8" fill="#e8f6fc"/></svg>
<div class="a" style="left:1102.0px;top:861.0px;width:7.0px;height:7.0px;background:#06216f;"></div>
<div class="a" style="left:1103.8px;top:862.8px;width:3.5px;height:3.5px;background:rgba(255,255,255,0.55);"></div>
<div class="a t" id="f169" style="left:1110.4px;top:860.9px;font-size:5.48px;color:#06216f;font-weight:bold;font-family:'Liberation Sans',sans-serif;transform:scaleX(0.9940);">浙江华海药业股份有限公司</div>
<div class="a" style="left:1110.4px;top:866.7px;width:59.2px;height:1.3px;background:#06216f;opacity:0.35;"></div>
<div class="a" style="left:1186.0px;top:852.0px;width:1.8px;height:11.0px;background:repeating-linear-gradient(180deg,#555 0 1.6px,transparent 1.6px 3.2px);opacity:0.6;"></div>
<div class="a" style="left:1189.6px;top:852.0px;width:1.8px;height:11.0px;background:repeating-linear-gradient(180deg,#555 0 1.6px,transparent 1.6px 3.2px);opacity:0.6;"></div>
<div class="a" style="left:1193.2px;top:852.0px;width:1.8px;height:11.0px;background:repeating-linear-gradient(180deg,#555 0 1.6px,transparent 1.6px 3.2px);opacity:0.6;"></div>
<div class="a" style="left:1398.5px;top:776.2px;width:20.3px;height:92.8px;background:linear-gradient(90deg,#d3d3d3 0%,#dcdcdc 20%,#e2e2e2 100%);"></div>
<div class="a" style="left:1233.0px;top:775.7px;width:165.5px;height:93.3px;background:linear-gradient(90deg,#f9f9f9 0%,#f1f1f1 55%,#e8e8e8 100%);clip-path:polygon(0 5.3px,100% 0,100% 100%,0 calc(100% - 2.5px));"></div>
<div class="a" style="left:1237.3px;top:781.0px;width:53.4px;height:85.4px;background:#3d7b5c;"></div>
<svg class="a" style="left:1237.3px;top:781.0px;overflow:hidden" width="53.4" height="85.4" viewBox="0 0 100 100" preserveAspectRatio="none"><polygon points="47,0 69,0 0,46 0,32" fill="#f4f4f4"/><polygon points="100,46 100,59 49,91 28,91" fill="#f4f4f4"/><path d="M29.6,20.2 C41.6,16.4 60.5,19.1 60.5,29.5 C60.5,35.5 55.3,38.8 45,46.4 L39.9,50.8 C31.3,57.4 31.3,71 52.6,73.8 L70,76" fill="none" stroke="#f4f4f4" stroke-width="9.08" vector-effect="non-scaling-stroke" stroke-linecap="butt"/></svg>
<div class="a" style="left:1251.0px;top:860.0px;width:5.5px;height:5.5px;border:0.8px solid #fff;box-sizing:border-box;"></div>
<div class="a t" id="f170" style="left:1257.9px;top:859.9px;font-size:5.98px;color:#fff;font-weight:bold;font-family:'Liberation Sans',sans-serif;transform:scaleX(0.8991);">华海药业</div>
<div class="a t" id="f171" style="left:1301.3px;top:786.9px;font-size:5.65px;color:#3d7b5c;font-weight:normal;font-family:'Liberation Sans',sans-serif;transform:scaleX(1.0960);">又悦</div>
<div class="a t" id="f172" style="left:1353.0px;top:783.3px;font-size:3.70px;color:#555;font-weight:normal;font-family:'Liberation Sans',sans-serif;transform:scaleX(0.8901);">国药准字H20203262</div>
<div class="a t" id="f173" style="left:1300.8px;top:794.3px;font-size:12.61px;color:#111;font-weight:bold;font-family:'Liberation Sans',sans-serif;transform:scaleX(0.8710);">奥 氮 平 口 崩 片</div>
<svg class="a" style="left:1300.8px;top:812.5px;" width="13.0" height="13.0" viewBox="0 0 100 100" preserveAspectRatio="xMidYMid meet" overflow="visible"><circle cx="50" cy="50" r="46" fill="none" stroke="#2a9fd6" stroke-width="5" stroke-dasharray="14 6" opacity="0.7"/><circle cx="50" cy="50" r="36" fill="#2a9fd6"/><path d="M22,50 Q50,78 78,48" stroke="#e8f6fc" stroke-width="8" fill="none"/><ellipse cx="54" cy="40" rx="11" ry="8" fill="#e8f6fc"/></svg>
<svg class="a" style="left:1346.0px;top:836.0px;" width="41.8" height="24.0" viewBox="0 0 100 100" preserveAspectRatio="none" overflow="visible"><path d="M42,3 C-5,10 -5,90 42,97" fill="none" stroke="#3d7b5c" stroke-width="1.80" vector-effect="non-scaling-stroke"/><path d="M80,13 C104,30 104,74 80,88" fill="none" stroke="#3d7b5c" stroke-width="0.9" opacity="0.55" vector-effect="non-scaling-stroke"/><path d="M62,6 L42,94" fill="none" stroke="#cfcfcf" stroke-width="0.6" vector-effect="non-scaling-stroke"/></svg>
<div class="a t" id="f174" style="left:1352.7px;top:842.6px;font-size:11.18px;color:#3d7b5c;font-weight:normal;font-family:'Liberation Sans',sans-serif;transform:scaleX(0.7664);"><b>5</b><span style="font-size:0.68em;opacity:0.55">mg</span><span style="font-size:0.8em">x</span><b>28</b><span style="font-size:0.6em;opacity:0.55">片</span></div>
<div class="a" style="left:1401.0px;top:847.0px;width:2.0px;height:12.0px;background:repeating-linear-gradient(180deg,#555 0 1.6px,transparent 1.6px 3.2px);opacity:0.6;"></div>
<div class="a" style="left:1405.0px;top:847.0px;width:2.0px;height:12.0px;background:repeating-linear-gradient(180deg,#555 0 1.6px,transparent 1.6px 3.2px);opacity:0.6;"></div>
<div class="a" style="left:1409.0px;top:847.0px;width:2.0px;height:12.0px;background:repeating-linear-gradient(180deg,#555 0 1.6px,transparent 1.6px 3.2px);opacity:0.6;"></div>
<div class="a" style="left:615.2px;top:880.0px;width:176.2px;height:97.9px;background:#e8e8e8;"></div>
<div class="a" style="left:766.4px;top:885.2px;width:20.9px;height:85.0px;background:linear-gradient(90deg,#d3d3d3 0%,#dcdcdc 20%,#e2e2e2 100%);"></div>
<div class="a" style="left:617.0px;top:886.5px;width:149.4px;height:82.0px;background:linear-gradient(90deg,#f9f9f9 0%,#f1f1f1 55%,#e8e8e8 100%);clip-path:polygon(0 3px,100% 0,100% 100%,0 calc(100% - 1px));"></div>
<div class="a" style="left:617.2px;top:889.8px;width:49.4px;height:77.4px;background:#8cba25;"></div>
<svg class="a" style="left:617.2px;top:889.8px;overflow:hidden" width="49.4" height="77.4" viewBox="0 0 100 100" preserveAspectRatio="none"><polygon points="47,0 69,0 0,46 0,32" fill="#f4f4f4"/><polygon points="100,46 100,59 49,91 28,91" fill="#f4f4f4"/><path d="M29.6,20.2 C41.6,16.4 60.5,19.1 60.5,29.5 C60.5,35.5 55.3,38.8 45,46.4 L39.9,50.8 C31.3,57.4 31.3,71 52.6,73.8 L70,76" fill="none" stroke="#f4f4f4" stroke-width="8.40" vector-effect="non-scaling-stroke" stroke-linecap="butt"/></svg>
<div class="a" style="left:630.5px;top:959.5px;width:6.1px;height:6.1px;border:0.8px solid #fff;box-sizing:border-box;"></div>
<div class="a t" id="f175" style="left:638.1px;top:959.4px;font-size:6.63px;color:#fff;font-weight:bold;font-family:'Liberation Sans',sans-serif;transform:scaleX(0.6582);">华海药业</div>
<div class="a t" id="f176" style="left:672.0px;top:893.7px;font-size:5.65px;color:#8cba25;font-weight:normal;font-family:'Liberation Sans',sans-serif;transform:scaleX(1.0710);">乐朗</div>
<div class="a t" id="f177" style="left:727.0px;top:889.8px;font-size:4.11px;color:#555;font-weight:normal;font-family:'Liberation Sans',sans-serif;transform:scaleX(0.8304);">国药准字H20203098</div>
<div class="a t" id="f178" style="left:672.2px;top:899.9px;font-size:10.98px;color:#111;font-weight:bold;font-family:'Liberation Sans',sans-serif;transform:scaleX(0.8786);">草酸艾司西酞普兰片</div>
<svg class="a" style="left:673.0px;top:915.0px;" width="11.5" height="11.5" viewBox="0 0 100 100" preserveAspectRatio="xMidYMid meet" overflow="visible"><circle cx="50" cy="50" r="46" fill="none" stroke="#2a9fd6" stroke-width="5" stroke-dasharray="14 6" opacity="0.7"/><circle cx="50" cy="50" r="36" fill="#2a9fd6"/><path d="M22,50 Q50,78 78,48" stroke="#e8f6fc" stroke-width="8" fill="none"/><ellipse cx="54" cy="40" rx="11" ry="8" fill="#e8f6fc"/></svg>
<svg class="a" style="left:713.0px;top:941.0px;" width="40.0" height="21.6" viewBox="0 0 100 100" preserveAspectRatio="none" overflow="visible"><path d="M42,3 C-5,10 -5,90 42,97" fill="none" stroke="#8cba25" stroke-width="1.62" vector-effect="non-scaling-stroke"/><path d="M80,13 C104,30 104,74 80,88" fill="none" stroke="#8cba25" stroke-width="0.9" opacity="0.55" vector-effect="non-scaling-stroke"/><path d="M62,6 L42,94" fill="none" stroke="#cfcfcf" stroke-width="0.6" vector-effect="non-scaling-stroke"/></svg>
<div class="a t" id="f179" style="left:719.4px;top:946.9px;font-size:10.06px;color:#8cba25;font-weight:normal;font-family:'Liberation Sans',sans-serif;transform:scaleX(0.8211);"><b>5</b><span style="font-size:0.68em;opacity:0.55">mg</span><span style="font-size:0.8em">x</span><b>28</b><span style="font-size:0.6em;opacity:0.55">片</span></div>
<div class="a" style="left:771.0px;top:950.4px;width:1.8px;height:11.2px;background:repeating-linear-gradient(180deg,#555 0 1.6px,transparent 1.6px 3.2px);opacity:0.6;"></div>
<div class="a" style="left:774.6px;top:950.4px;width:1.8px;height:11.2px;background:repeating-linear-gradient(180deg,#555 0 1.6px,transparent 1.6px 3.2px);opacity:0.6;"></div>
<div class="a" style="left:778.2px;top:950.4px;width:1.8px;height:11.2px;background:repeating-linear-gradient(180deg,#555 0 1.6px,transparent 1.6px 3.2px);opacity:0.6;"></div>
<div class="a" style="left:990.4px;top:888.0px;width:15.3px;height:81.6px;background:linear-gradient(90deg,#d0d0d0 0%,#d8d8d8 20%,#dcdcdc 100%);"></div>
<div class="a" style="left:969.0px;top:888.0px;width:21.4px;height:81.6px;background:linear-gradient(90deg,#e9e9e9 0%,#e4e4e4 60%,#dedede 100%);box-shadow:0 1px 1px rgba(0,0,0,0.07);"></div>
<div class="a t" id="f180" style="left:970.0px;top:906.6px;font-size:11.96px;color:#111;font-weight:bold;font-family:'Liberation Sans',sans-serif;transform:scaleX(1.2464);">片</div>
<div class="a" style="left:970.0px;top:956.5px;width:7.1px;height:7.1px;background:#333;"></div>
<div class="a" style="left:971.8px;top:958.3px;width:3.6px;height:3.6px;background:rgba(255,255,255,0.55);"></div>
<div class="a t" id="f181" style="left:978.5px;top:956.4px;font-size:5.56px;color:#333;font-weight:bold;font-family:'Liberation Sans',sans-serif;transform:scaleX(0.0823);">浙江华海药业股份有限公司</div>
<div class="a" style="left:978.5px;top:962.3px;width:5.5px;height:1.3px;background:#333;opacity:0.35;"></div>
<div class="a" style="left:993.0px;top:894.0px;width:1.4px;height:12.0px;background:repeating-linear-gradient(180deg,#555 0 1.6px,transparent 1.6px 3.2px);opacity:0.6;"></div>
<div class="a" style="left:995.8px;top:894.0px;width:1.4px;height:12.0px;background:repeating-linear-gradient(180deg,#555 0 1.6px,transparent 1.6px 3.2px);opacity:0.6;"></div>
<div class="a" style="left:998.6px;top:894.0px;width:1.4px;height:12.0px;background:repeating-linear-gradient(180deg,#555 0 1.6px,transparent 1.6px 3.2px);opacity:0.6;"></div>
<div class="a" style="left:951.6px;top:885.4px;width:17.4px;height:85.8px;background:linear-gradient(90deg,#d0d0d0 0%,#d8d8d8 20%,#dcdcdc 100%);"></div>
<div class="a" style="left:814.8px;top:885.4px;width:136.8px;height:85.8px;background:linear-gradient(90deg,#e9e9e9 0%,#e4e4e4 60%,#dedede 100%);clip-path:polygon(0 6px,100% 0,100% 100%,0 calc(100% - 3.8px));"></div>
<div class="a" style="left:814.8px;top:891.4px;width:43.8px;height:76.0px;background:#d4ad18;"></div>
<svg class="a" style="left:818.0px;top:897.0px;" width="25.0" height="31.0" viewBox="0 0 25.00 31.00" overflow="visible"><polygon points="0.00,0.74 13.12,0.74 7.92,7.25 5.42,7.50 5.42,15.75 17.50,0.00 25.00,0.00 0.42,31.00" fill="#f4f4f4"/></svg>
<div class="a t" id="f182" style="left:867.3px;top:895.7px;font-size:5.33px;color:#333;font-weight:bold;font-family:'Liberation Sans',sans-serif;transform:scaleX(0.9126);">乐友</div>
<div class="a t" id="f183" style="left:910.0px;top:892.0px;font-size:4.52px;color:#777;font-weight:normal;font-family:'Liberation Sans',sans-serif;transform:scaleX(0.6802);">国药准字H20031100</div>
<div class="a t" id="f184" style="left:867.3px;top:906.6px;font-size:11.96px;color:#111;font-weight:bold;font-family:'Liberation Sans',sans-serif;transform:scaleX(0.8519);">盐酸帕罗西汀片</div>
<div class="a t" id="f185" style="left:867.3px;top:919.3px;font-size:4.52px;color:#c9a414;font-weight:normal;font-family:'Liberation Sans',sans-serif;transform:scaleX(1.0375);">Paroxetine Hydrochloride Tablets</div>
<div class="a t" id="f186" style="left:872.8px;top:932.2px;font-size:1.87px;color:#6e6e6e;font-weight:normal;font-family:'Liberation Sans',sans-serif;transform:scaleX(1.4693);">【适应症】本品用于治疗轻、中度原发性高血压。</div>
<div class="a t" id="f187" style="left:872.8px;top:934.3px;font-size:1.87px;color:#6e6e6e;font-weight:normal;font-family:'Liberation Sans',sans-serif;transform:scaleX(1.4693);">规格：按本品计每片含主要成分及辅料详见说明书</div>
<div class="a t" id="f188" style="left:872.8px;top:936.5px;font-size:1.87px;color:#6e6e6e;font-weight:normal;font-family:'Liberation Sans',sans-serif;transform:scaleX(1.4693);">贮藏：密封，置阴凉干燥处保存。有效期至见包装</div>
<div class="a t" id="f189" style="left:872.8px;top:938.6px;font-size:1.87px;color:#6e6e6e;font-weight:normal;font-family:'Liberation Sans',sans-serif;transform:scaleX(0.9250);">批准文号及生产批号详见包装盒侧面打印信息。</div>
<svg class="a" style="left:866.8px;top:944.5px;" width="14.0" height="14.0" viewBox="0 0 100 100" preserveAspectRatio="xMidYMid meet" overflow="visible"><circle cx="50" cy="50" r="46" fill="none" stroke="#2a9fd6" stroke-width="5" stroke-dasharray="14 6" opacity="0.7"/><circle cx="50" cy="50" r="36" fill="#2a9fd6"/><path d="M22,50 Q50,78 78,48" stroke="#e8f6fc" stroke-width="8" fill="none"/><ellipse cx="54" cy="40" rx="11" ry="8" fill="#e8f6fc"/></svg>
<div class="a t" id="f190" style="left:883.7px;top:946.8px;font-size:3.04px;color:#6e6e6e;font-weight:normal;font-family:'Liberation Sans',sans-serif;transform:scaleX(0.5431);">【适应症】本品用于治疗轻、中度原发性高血压。</div>
<div class="a" style="left:883.7px;top:956.5px;width:7.1px;height:7.1px;background:#333;"></div>
<div class="a" style="left:885.5px;top:958.3px;width:3.6px;height:3.6px;background:rgba(255,255,255,0.55);"></div>
<div class="a t" id="f191" style="left:892.2px;top:956.4px;font-size:5.56px;color:#333;font-weight:bold;font-family:'Liberation Sans',sans-serif;transform:scaleX(0.6559);">浙江华海药业股份有限公司</div>
<div class="a" style="left:892.2px;top:962.3px;width:46.8px;height:1.3px;background:#333;opacity:0.35;"></div>
<div class="a" style="left:956.5px;top:894.7px;width:1.5px;height:12.0px;background:repeating-linear-gradient(180deg,#555 0 1.6px,transparent 1.6px 3.2px);opacity:0.6;"></div>
<div class="a" style="left:959.5px;top:894.7px;width:1.5px;height:12.0px;background:repeating-linear-gradient(180deg,#555 0 1.6px,transparent 1.6px 3.2px);opacity:0.6;"></div>
<div class="a" style="left:962.5px;top:894.7px;width:1.5px;height:12.0px;background:repeating-linear-gradient(180deg,#555 0 1.6px,transparent 1.6px 3.2px);opacity:0.6;"></div>
<div class="a" style="left:1166.0px;top:885.2px;width:18.0px;height:85.0px;background:linear-gradient(90deg,#d3d3d3 0%,#dcdcdc 20%,#e2e2e2 100%);"></div>
<div class="a" style="left:1033.0px;top:885.2px;width:133.0px;height:84.5px;background:linear-gradient(90deg,#f9f9f9 0%,#f1f1f1 55%,#e8e8e8 100%);clip-path:polygon(0 5.6px,100% 0,100% 100%,0 calc(100% - 3.5px));"></div>
<div class="a" style="left:1037.2px;top:890.8px;width:37.7px;height:75.4px;background:#1e6e33;"></div>
<svg class="a" style="left:1037.2px;top:890.8px;overflow:hidden" width="37.7" height="75.4" viewBox="0 0 100 100" preserveAspectRatio="none"><polygon points="47,0 69,0 0,46 0,32" fill="#f4f4f4"/><polygon points="100,46 100,59 49,91 28,91" fill="#f4f4f4"/><path d="M29.6,20.2 C41.6,16.4 60.5,19.1 60.5,29.5 C60.5,35.5 55.3,38.8 45,46.4 L39.9,50.8 C31.3,57.4 31.3,71 52.6,73.8 L70,76" fill="none" stroke="#f4f4f4" stroke-width="6.41" vector-effect="non-scaling-stroke" stroke-linecap="butt"/></svg>
<div class="a" style="left:1050.0px;top:960.6px;width:5.0px;height:5.0px;border:0.8px solid #fff;box-sizing:border-box;"></div>
<div class="a t" id="f192" style="left:1056.2px;top:960.5px;font-size:5.43px;color:#fff;font-weight:bold;font-family:'Liberation Sans',sans-serif;transform:scaleX(0.4967);">华海药业</div>
<div class="a t" id="f193" style="left:1079.5px;top:894.9px;font-size:4.89px;color:#1e6e33;font-weight:normal;font-family:'Liberation Sans',sans-serif;transform:scaleX(0.8891);">乐元</div>
<div class="a t" id="f194" style="left:1122.3px;top:889.8px;font-size:4.11px;color:#555;font-weight:normal;font-family:'Liberation Sans',sans-serif;transform:scaleX(0.8814);">国药准字H20203147</div>
<div class="a t" id="f195" style="left:1079.5px;top:902.4px;font-size:10.00px;color:#111;font-weight:bold;font-family:'Liberation Sans',sans-serif;transform:scaleX(0.9891);">盐 酸 舍 曲 林 片</div>
<svg class="a" style="left:1079.8px;top:916.8px;" width="9.2" height="9.2" viewBox="0 0 100 100" preserveAspectRatio="xMidYMid meet" overflow="visible"><circle cx="50" cy="50" r="46" fill="none" stroke="#2a9fd6" stroke-width="5" stroke-dasharray="14 6" opacity="0.7"/><circle cx="50" cy="50" r="36" fill="#2a9fd6"/><path d="M22,50 Q50,78 78,48" stroke="#e8f6fc" stroke-width="8" fill="none"/><ellipse cx="54" cy="40" rx="11" ry="8" fill="#e8f6fc"/></svg>
<svg class="a" style="left:1111.0px;top:945.3px;" width="40.3" height="17.3" viewBox="0 0 100 100" preserveAspectRatio="none" overflow="visible"><path d="M42,3 C-5,10 -5,90 42,97" fill="none" stroke="#1e6e33" stroke-width="1.30" vector-effect="non-scaling-stroke"/><path d="M80,13 C104,30 104,74 80,88" fill="none" stroke="#1e6e33" stroke-width="0.9" opacity="0.55" vector-effect="non-scaling-stroke"/><path d="M62,6 L42,94" fill="none" stroke="#cfcfcf" stroke-width="0.6" vector-effect="non-scaling-stroke"/></svg>
<div class="a t" id="f196" style="left:1117.4px;top:950.0px;font-size:8.06px;color:#1e6e33;font-weight:normal;font-family:'Liberation Sans',sans-serif;transform:scaleX(0.8864);"><b>50</b><span style="font-size:0.68em;opacity:0.55">mg</span><span style="font-size:0.8em">x</span><b>28</b><span style="font-size:0.6em;opacity:0.55">片</span></div>
<div class="a" style="left:1170.0px;top:950.4px;width:1.6px;height:10.2px;background:repeating-linear-gradient(180deg,#555 0 1.6px,transparent 1.6px 3.2px);opacity:0.6;"></div>
<div class="a" style="left:1173.2px;top:950.4px;width:1.6px;height:10.2px;background:repeating-linear-gradient(180deg,#555 0 1.6px,transparent 1.6px 3.2px);opacity:0.6;"></div>
<div class="a" style="left:1176.4px;top:950.4px;width:1.6px;height:10.2px;background:repeating-linear-gradient(180deg,#555 0 1.6px,transparent 1.6px 3.2px);opacity:0.6;"></div>
<svg class="a" style="left:660.5px;top:995.7px;" width="136.7" height="10.1" viewBox="0 0 136.70 10.10" overflow="visible"><polygon points="0.00,0.00 129.20,1.30 136.70,10.10 13.40,10.10" fill="#dcdcdc"/></svg>
<div class="a" style="left:694.0px;top:997.0px;width:9.0px;height:2.0px;background:#444;opacity:0.7;"></div>
<div class="a" style="left:707.0px;top:997.0px;width:67.0px;height:2.0px;background:repeating-linear-gradient(90deg,#555 0 6px,transparent 6px 12px);opacity:0.55;"></div>
<div class="a" style="left:675.0px;top:1002.0px;width:52.0px;height:2.5px;background:#555;opacity:0.55;"></div>
<div class="a" style="left:737.0px;top:1002.0px;width:53.0px;height:2.5px;background:#888;opacity:0.35;"></div>
<div class="a" style="left:673.9px;top:1005.8px;width:123.3px;height:58.2px;background:linear-gradient(90deg,#f6f6f6,#f0f0f0);box-shadow:0 1px 2px rgba(0,0,0,0.08);"></div>
<svg class="a" style="left:617.8px;top:995.7px;" width="20.3" height="72.6" viewBox="0 0 20.30 72.60" overflow="visible"><polygon points="0.00,0.00 20.30,10.10 20.30,72.60 0.00,63.30" fill="#6b4a66"/></svg>
<svg class="a" style="left:617.8px;top:995.7px;" width="56.1" height="10.1" viewBox="0 0 56.10 10.10" overflow="visible"><polygon points="0.00,0.00 36.20,0.00 56.10,10.10 20.30,10.10" fill="#75536f"/></svg>
<div class="a" style="left:638.1px;top:1005.8px;width:35.8px;height:62.5px;background:#7b5875;"></div>
<svg class="a" style="left:640.5px;top:1006.0px;" width="28.5" height="26.0" viewBox="0 0 28.50 26.00" overflow="visible"><polygon points="0.00,0.62 14.96,0.62 9.03,6.08 6.18,6.29 6.18,13.21 19.95,0.00 28.50,0.00 0.48,26.00" fill="#f4f4f4"/></svg>
<div class="a t" id="f197" style="left:620.0px;top:1005.0px;font-size:3.48px;color:#94798f;font-weight:normal;font-family:'Liberation Sans',sans-serif;transform:scaleX(0.2466);">【适应症】本品用于治疗轻、中度原发性高血压。</div>
<div class="a t" id="f198" style="left:620.0px;top:1010.2px;font-size:3.48px;color:#94798f;font-weight:normal;font-family:'Liberation Sans',sans-serif;transform:scaleX(0.2466);">规格：按本品计每片含主要成分及辅料详见说明书</div>
<div class="a t" id="f199" style="left:620.0px;top:1015.4px;font-size:3.48px;color:#94798f;font-weight:normal;font-family:'Liberation Sans',sans-serif;transform:scaleX(0.2466);">贮藏：密封，置阴凉干燥处保存。有效期至见包装</div>
<div class="a t" id="f200" style="left:620.0px;top:1020.6px;font-size:3.48px;color:#94798f;font-weight:normal;font-family:'Liberation Sans',sans-serif;transform:scaleX(0.2584);">批准文号及生产批号详见包装盒侧面打印信息。</div>
<div class="a t" id="f201" style="left:620.0px;top:1025.8px;font-size:3.48px;color:#94798f;font-weight:normal;font-family:'Liberation Sans',sans-serif;transform:scaleX(0.1497);">【适应症】本品用于治疗轻、中度原发性高血压。</div>
<div class="a t" id="f202" style="left:681.3px;top:1008.0px;font-size:4.02px;color:#222;font-weight:bold;font-family:'Liberation Sans',sans-serif;transform:scaleX(1.3152);">爱诺</div>
<div class="a t" id="f203" style="left:759.8px;top:1008.6px;font-size:3.01px;color:#555;font-weight:normal;font-family:'Liberation Sans',sans-serif;transform:scaleX(1.1332);">国药准字H20183284</div>
<div class="a t" id="f204" style="left:711.8px;top:1012.7px;font-size:8.04px;color:#111;font-weight:bold;font-family:'Liberation Sans',sans-serif;transform:scaleX(1.1708);">罗 库 溴 铵 注 射 液</div>
<div class="a t" id="f205" style="left:723.0px;top:1020.2px;font-size:5.07px;color:#333;font-weight:normal;font-family:'Liberation Sans',sans-serif;transform:scaleX(0.9188);">Rocuronium Bromide Injection</div>
<div class="a t" id="f206" style="left:752.9px;top:1034.0px;font-size:3.04px;color:#444;font-weight:normal;font-family:'Liberation Sans',sans-serif;transform:scaleX(0.9762);">【适应症】</div>
<div class="a t" id="f207" style="left:726.7px;top:1038.7px;font-size:2.78px;color:#777;font-weight:normal;font-family:'Liberation Sans',sans-serif;transform:scaleX(0.9897);">【适应症】本品用于治疗轻、中度原发性高血压。</div>
<div class="a t" id="f208" style="left:726.7px;top:1041.9px;font-size:2.78px;color:#777;font-weight:normal;font-family:'Liberation Sans',sans-serif;transform:scaleX(0.5952);">规格：按本品计每片含主要成分及辅料详见说明书</div>
<div class="a t" id="f209" style="left:758.0px;top:1051.2px;font-size:2.00px;color:#777;font-weight:normal;font-family:'Liberation Sans',sans-serif;transform:scaleX(0.6991);">【适应症】本品用于治疗轻、中度原发性高血压。</div>
<div class="a" style="left:741.0px;top:1056.0px;width:7.0px;height:7.0px;background:#333;"></div>
<div class="a" style="left:742.8px;top:1057.8px;width:3.5px;height:3.5px;background:rgba(255,255,255,0.55);"></div>
<div class="a t" id="f210" style="left:749.4px;top:1055.9px;font-size:5.48px;color:#333;font-weight:bold;font-family:'Liberation Sans',sans-serif;transform:scaleX(0.7340);">浙江华海药业股份有限公司</div>
<div class="a" style="left:749.4px;top:1061.7px;width:43.6px;height:1.3px;background:#333;opacity:0.35;"></div>
</body></html>
